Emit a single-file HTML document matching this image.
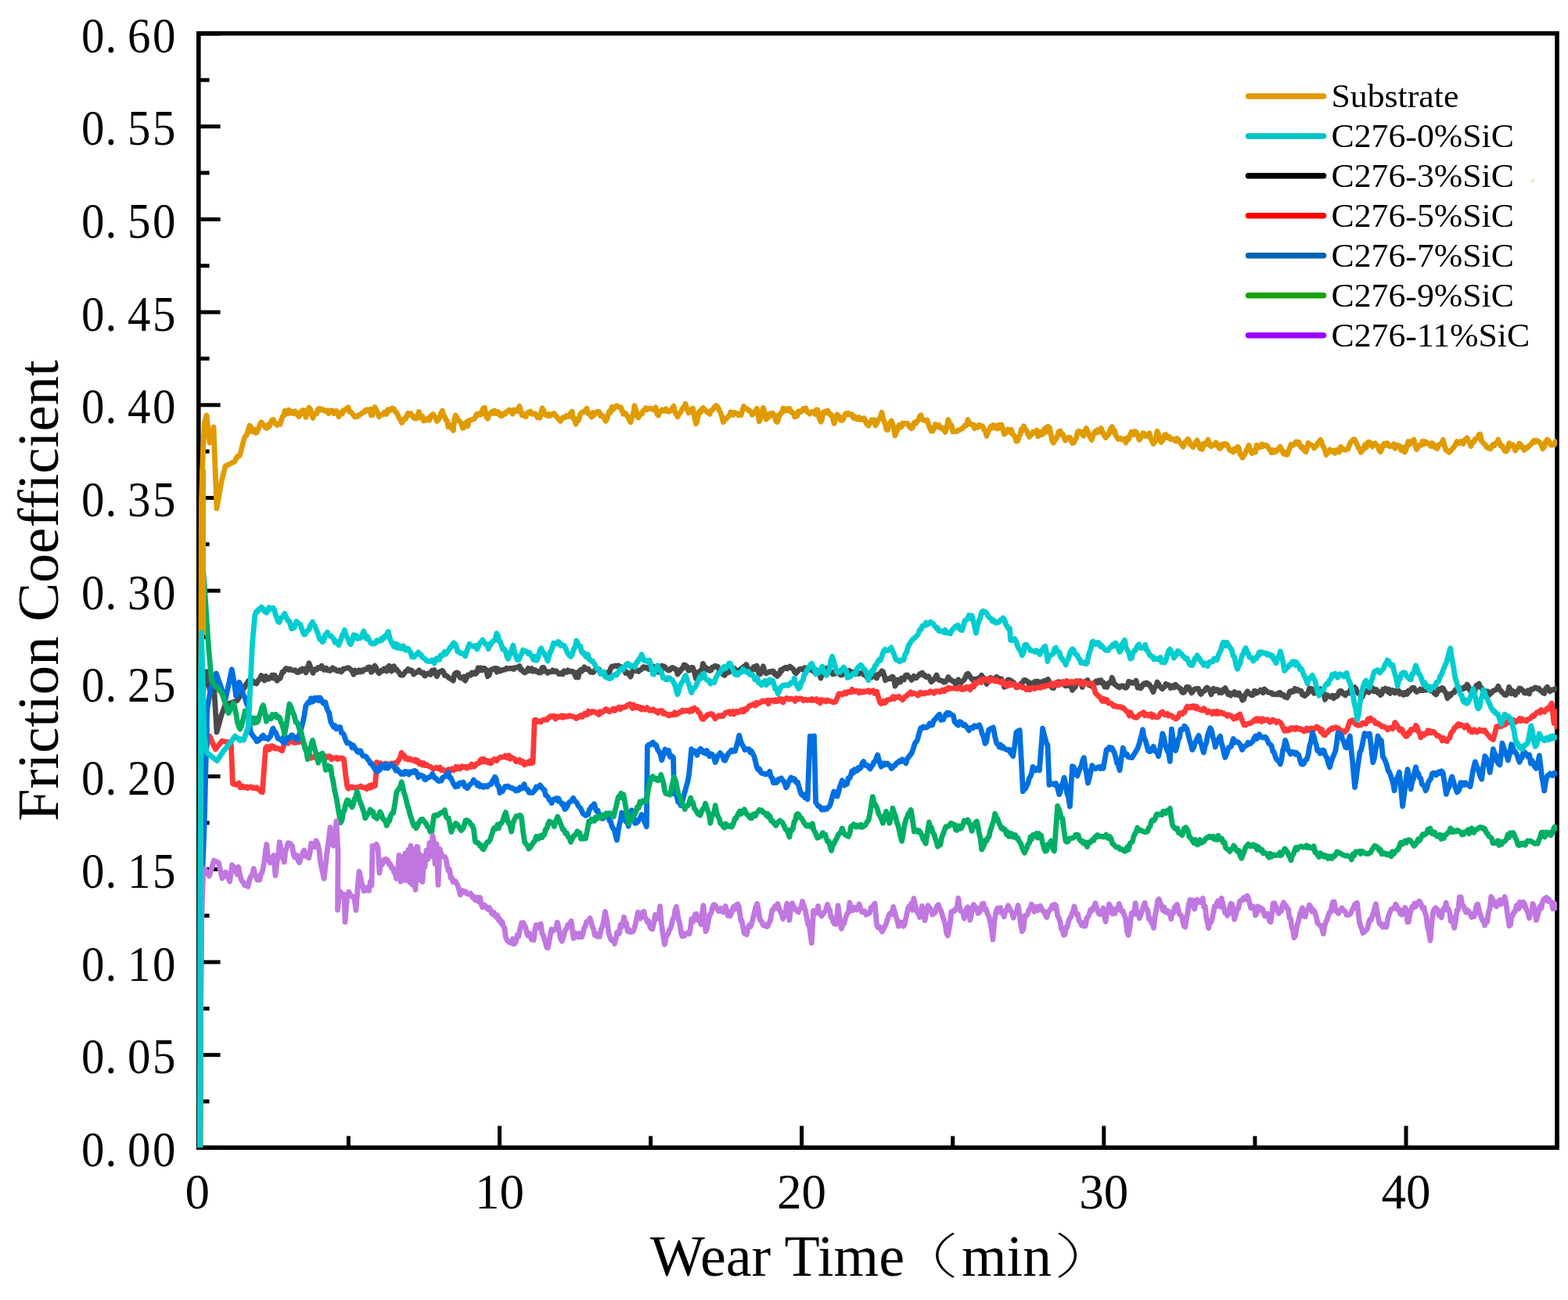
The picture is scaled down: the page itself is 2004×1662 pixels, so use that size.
<!DOCTYPE html>
<html><head><meta charset="utf-8"><style>
html,body{margin:0;padding:0;background:#fff;}
svg{display:block;}
.yl{font-family:"Liberation Serif","Noto Serif CJK SC",serif;font-size:64px;fill:#000;}
.xl{font-family:"Liberation Serif",serif;font-size:63px;fill:#000;}
.xt{font-family:"Liberation Serif","Noto Serif CJK SC",serif;font-size:74px;fill:#000;}
.cjk{font-family:"Noto Serif CJK SC",serif;}
.cjkp{font-family:"Liberation Serif","Noto Sans CJK SC",sans-serif;font-weight:100;}
.yt{font-family:"Liberation Serif",serif;font-size:74.7px;fill:#000;}
.lg{font-family:"Liberation Serif",serif;font-size:42.5px;fill:#000;}
</style></head><body>
<svg width="2004" height="1662" viewBox="0 0 2004 1662">
<rect x="253.8" y="42.7" width="1736.2" height="1424.5" fill="none" stroke="#000" stroke-width="5.6"/>
<line x1="253.8" y1="1467.4" x2="281.6" y2="1467.4" stroke="#000" stroke-width="5.0"/>
<line x1="253.8" y1="1408.1" x2="267.6" y2="1408.1" stroke="#000" stroke-width="5.0"/>
<line x1="253.8" y1="1348.7" x2="281.6" y2="1348.7" stroke="#000" stroke-width="5.0"/>
<line x1="253.8" y1="1289.4" x2="267.6" y2="1289.4" stroke="#000" stroke-width="5.0"/>
<line x1="253.8" y1="1230.0" x2="281.6" y2="1230.0" stroke="#000" stroke-width="5.0"/>
<line x1="253.8" y1="1170.7" x2="267.6" y2="1170.7" stroke="#000" stroke-width="5.0"/>
<line x1="253.8" y1="1111.3" x2="281.6" y2="1111.3" stroke="#000" stroke-width="5.0"/>
<line x1="253.8" y1="1052.0" x2="267.6" y2="1052.0" stroke="#000" stroke-width="5.0"/>
<line x1="253.8" y1="992.6" x2="281.6" y2="992.6" stroke="#000" stroke-width="5.0"/>
<line x1="253.8" y1="933.3" x2="267.6" y2="933.3" stroke="#000" stroke-width="5.0"/>
<line x1="253.8" y1="873.9" x2="281.6" y2="873.9" stroke="#000" stroke-width="5.0"/>
<line x1="253.8" y1="814.6" x2="267.6" y2="814.6" stroke="#000" stroke-width="5.0"/>
<line x1="253.8" y1="755.2" x2="281.6" y2="755.2" stroke="#000" stroke-width="5.0"/>
<line x1="253.8" y1="695.8" x2="267.6" y2="695.8" stroke="#000" stroke-width="5.0"/>
<line x1="253.8" y1="636.5" x2="281.6" y2="636.5" stroke="#000" stroke-width="5.0"/>
<line x1="253.8" y1="577.1" x2="267.6" y2="577.1" stroke="#000" stroke-width="5.0"/>
<line x1="253.8" y1="517.8" x2="281.6" y2="517.8" stroke="#000" stroke-width="5.0"/>
<line x1="253.8" y1="458.4" x2="267.6" y2="458.4" stroke="#000" stroke-width="5.0"/>
<line x1="253.8" y1="399.1" x2="281.6" y2="399.1" stroke="#000" stroke-width="5.0"/>
<line x1="253.8" y1="339.8" x2="267.6" y2="339.8" stroke="#000" stroke-width="5.0"/>
<line x1="253.8" y1="280.4" x2="281.6" y2="280.4" stroke="#000" stroke-width="5.0"/>
<line x1="253.8" y1="221.0" x2="267.6" y2="221.0" stroke="#000" stroke-width="5.0"/>
<line x1="253.8" y1="161.7" x2="281.6" y2="161.7" stroke="#000" stroke-width="5.0"/>
<line x1="253.8" y1="102.3" x2="267.6" y2="102.3" stroke="#000" stroke-width="5.0"/>
<line x1="253.8" y1="43.0" x2="281.6" y2="43.0" stroke="#000" stroke-width="5.0"/>
<line x1="445.4" y1="1467.2" x2="445.4" y2="1452.4" stroke="#000" stroke-width="5.0"/>
<line x1="638.5" y1="1467.2" x2="638.5" y2="1439.4" stroke="#000" stroke-width="5.0"/>
<line x1="831.6" y1="1467.2" x2="831.6" y2="1452.4" stroke="#000" stroke-width="5.0"/>
<line x1="1024.6" y1="1467.2" x2="1024.6" y2="1439.4" stroke="#000" stroke-width="5.0"/>
<line x1="1217.7" y1="1467.2" x2="1217.7" y2="1452.4" stroke="#000" stroke-width="5.0"/>
<line x1="1410.8" y1="1467.2" x2="1410.8" y2="1439.4" stroke="#000" stroke-width="5.0"/>
<line x1="1603.9" y1="1467.2" x2="1603.9" y2="1452.4" stroke="#000" stroke-width="5.0"/>
<line x1="1797.0" y1="1467.2" x2="1797.0" y2="1439.4" stroke="#000" stroke-width="5.0"/>
<line x1="1990.1" y1="1467.2" x2="1990.1" y2="1452.4" stroke="#000" stroke-width="5.0"/>
<defs><clipPath id="pc"><rect x="250" y="40" width="1740" height="1430"/></clipPath></defs>
<g clip-path="url(#pc)" fill="none" stroke-width="6.8" stroke-linejoin="round" stroke-linecap="butt">
<polyline stroke="#4A4A4A" points="256.0,1467.1 256.5,1228.6 257.0,1033.6 257.5,929.6 259.5,887.3 261.5,864.6 264.0,858.7 266.0,870.1 268.0,881.5 269.7,877.2 271.3,872.8 273.0,868.5 275.0,902.3 277.0,936.1 278.5,930.6 280.0,925.0 281.5,919.5 283.0,914.0 284.7,909.7 286.3,905.3 288.0,901.0 289.5,900.5 291.0,900.0 292.5,899.5 294.0,899.0 295.5,898.6 297.0,898.1 298.5,897.6 300.0,897.1 301.5,896.3 303.0,895.7 304.5,893.7 306.0,889.9 307.6,889.9 309.2,885.8 310.8,880.9 312.4,879.2 314.0,875.5 315.7,873.3 317.3,870.7 319.0,869.3 320.5,868.4 322.0,870.2 323.5,870.7 325.0,873.3 326.5,873.4 328.0,873.9 329.5,870.6 331.0,868.8 332.5,866.6 334.0,863.5 336.0,868.2 338.0,870.0 339.5,864.4 341.0,865.7 342.5,868.2 344.0,867.9 346.0,865.9 348.0,863.0 349.5,867.0 351.0,863.2 352.5,865.5 354.0,870.3 356.0,867.8 358.0,867.5 359.5,863.2 361.0,858.9 362.5,859.0 364.0,856.3 365.7,854.4 367.3,855.3 369.0,856.4 370.7,855.2 372.3,856.5 374.0,856.9 375.6,857.2 377.2,856.8 378.8,858.9 380.4,859.7 382.0,859.2 383.5,856.5 385.0,857.9 386.5,855.1 388.0,856.2 389.5,855.2 391.0,860.1 393.0,854.2 395.0,847.8 396.7,852.6 398.3,856.7 400.0,860.4 401.6,857.1 403.2,855.5 404.8,856.0 406.4,853.6 408.0,853.2 409.5,854.4 411.0,851.2 412.5,854.5 414.0,856.4 415.5,854.5 417.0,854.1 418.5,856.9 420.0,856.5 421.7,857.5 423.3,855.6 425.0,853.9 426.7,856.0 428.3,855.5 430.0,857.3 431.5,858.1 433.0,856.9 434.5,856.7 436.0,858.9 437.5,857.7 439.0,854.9 440.5,854.9 442.0,854.7 443.5,853.8 445.0,853.6 446.8,854.7 448.5,856.3 450.2,858.2 452.0,862.3 453.7,856.9 455.3,859.6 457.0,859.4 458.7,856.8 460.3,859.0 462.0,857.1 463.6,858.3 465.2,855.8 466.8,856.0 468.4,855.8 470.0,853.5 471.5,852.9 473.0,853.2 474.5,859.4 476.0,857.9 477.5,853.5 479.0,851.2 480.8,853.9 482.7,858.7 484.5,860.7 486.2,859.4 487.8,857.0 489.5,857.5 491.1,854.9 492.6,857.1 494.2,858.0 495.7,853.1 497.3,851.3 498.8,855.5 500.4,858.1 501.9,852.4 503.5,851.7 505.2,856.2 506.8,855.7 508.5,858.0 510.2,860.0 511.8,863.0 513.5,863.3 515.1,862.9 516.7,860.8 518.3,858.4 519.9,857.7 521.5,855.4 523.3,857.6 525.1,856.7 526.8,857.5 528.6,862.1 530.4,860.6 532.1,859.5 533.7,859.3 535.4,856.8 536.9,858.2 538.4,860.2 539.9,861.1 541.4,860.0 542.9,864.1 544.4,863.1 545.9,861.4 547.4,860.6 548.9,860.4 550.4,862.5 551.9,857.3 553.4,858.3 555.1,856.6 556.7,861.6 558.4,864.6 560.1,861.1 561.9,858.8 563.6,858.3 565.4,857.2 566.9,859.4 568.4,863.6 569.9,863.3 571.4,864.4 573.0,866.0 574.6,867.0 576.1,868.1 577.7,868.8 579.3,870.1 580.8,862.1 582.3,860.6 583.8,859.8 585.3,860.2 586.8,864.2 588.3,866.6 589.8,866.6 591.3,867.4 593.0,865.1 594.6,870.2 596.3,866.6 598.0,862.9 599.6,862.8 601.3,863.4 602.9,860.0 604.5,861.7 606.1,859.9 607.7,861.5 609.3,860.2 611.0,853.8 612.6,857.1 614.3,853.7 616.0,856.9 617.6,854.7 619.3,854.4 621.3,856.2 623.3,864.7 625.3,862.9 627.2,856.1 629.2,856.0 630.7,854.7 632.2,855.9 633.7,854.3 635.2,859.3 636.7,855.3 638.2,856.5 639.7,857.9 641.2,856.5 642.7,856.7 644.3,855.9 645.8,856.1 647.4,854.2 648.9,854.9 650.5,854.9 652.0,854.3 653.5,854.8 655.0,854.1 656.5,855.5 658.0,853.7 659.5,853.8 661.0,852.9 662.5,852.9 664.0,851.6 665.7,856.5 667.3,856.2 669.0,858.9 670.5,859.9 672.0,859.3 673.5,857.5 675.0,854.4 676.5,857.4 678.0,856.5 679.5,854.5 681.0,858.3 682.5,856.6 684.0,856.4 685.5,858.7 687.0,858.8 688.5,859.9 690.0,857.6 691.5,859.8 693.0,853.3 694.8,853.3 696.5,858.0 698.2,858.0 700.0,860.5 701.6,859.0 703.2,858.9 704.8,858.8 706.4,856.8 708.0,858.5 709.6,857.6 711.2,858.0 712.8,860.3 714.4,861.7 716.0,861.6 717.6,860.2 719.2,861.9 720.8,857.8 722.4,858.4 724.0,859.4 725.8,856.9 727.5,858.5 729.2,857.8 731.0,858.8 732.7,858.7 734.3,861.7 736.0,865.7 737.5,859.6 739.0,866.0 740.5,858.3 742.0,856.3 743.6,858.1 745.2,856.1 746.8,852.8 748.4,855.8 750.0,855.5 751.5,855.0 753.0,856.7 754.5,859.3 756.0,858.7 757.6,859.8 759.2,858.5 760.8,856.3 762.4,854.3 764.0,855.2 765.7,855.5 767.3,859.6 769.0,859.6 770.7,861.9 772.3,862.2 774.0,863.7 775.6,860.0 777.2,860.1 778.8,859.7 780.4,854.5 782.0,852.0 783.7,852.3 785.3,851.5 787.0,850.9 788.7,851.8 790.3,850.8 792.0,853.1 793.5,852.4 795.0,854.4 796.5,856.8 798.0,856.3 799.6,860.6 801.2,859.2 802.8,860.6 804.4,863.0 806.0,865.1 807.7,859.2 809.3,857.4 811.0,851.0 812.7,857.6 814.3,857.3 816.0,858.4 817.5,856.7 819.0,856.2 820.5,855.2 822.0,852.6 823.6,852.7 825.2,853.8 826.8,853.2 828.4,855.3 830.0,855.6 831.6,853.8 833.2,854.4 834.8,851.7 836.4,854.6 838.0,853.5 840.0,858.8 841.5,859.2 843.0,852.1 844.5,854.6 846.0,851.2 847.7,854.4 849.3,852.2 851.0,854.1 852.7,855.8 854.3,857.1 856.0,856.9 857.7,854.3 859.3,853.4 861.0,854.2 862.7,855.5 864.3,855.6 866.0,862.0 867.7,859.5 869.3,858.3 871.0,854.7 872.7,854.6 874.3,849.9 876.0,850.5 878.0,852.2 880.0,857.2 881.8,856.8 883.7,853.3 885.5,853.5 887.5,859.8 889.5,867.7 891.0,864.5 892.5,859.1 894.0,859.1 895.5,857.0 897.0,856.6 898.5,848.4 900.2,851.9 902.0,856.5 903.8,854.3 905.5,856.3 907.2,857.5 908.8,856.8 910.5,852.9 912.2,853.3 913.8,851.2 915.5,851.9 917.3,852.2 919.1,856.3 920.8,856.1 922.6,859.8 924.4,862.5 926.0,863.4 927.5,861.7 929.1,858.7 930.7,859.9 932.3,859.2 933.8,856.9 935.4,855.8 937.1,856.3 938.7,854.5 940.4,857.7 942.1,858.2 943.7,857.0 945.4,859.9 947.1,854.7 948.9,854.0 950.6,852.2 952.4,853.9 953.9,849.6 955.4,854.0 956.9,855.6 958.4,855.8 959.9,858.1 961.4,855.9 963.4,852.5 965.3,855.6 967.3,851.1 968.8,857.9 970.3,862.2 972.0,861.8 973.6,857.9 975.3,851.8 977.3,858.1 979.3,860.9 980.9,859.8 982.5,859.5 984.1,858.4 985.7,859.0 987.3,857.9 988.8,858.5 990.3,862.2 991.8,861.4 993.3,864.4 994.8,862.3 996.3,861.6 997.8,856.4 999.3,857.5 1001.0,854.9 1002.6,854.1 1004.3,853.2 1006.0,854.9 1007.6,853.8 1009.3,851.9 1010.9,852.9 1012.5,854.8 1014.0,855.6 1015.6,859.3 1017.2,860.8 1018.8,859.1 1020.3,857.4 1021.9,855.3 1023.5,855.1 1025.1,855.4 1026.6,856.4 1028.2,853.6 1029.9,853.6 1031.5,855.8 1033.2,856.7 1034.9,855.9 1036.6,856.5 1038.3,856.8 1040.0,858.9 1041.7,855.8 1043.3,857.3 1045.0,857.5 1047.0,859.8 1049.0,867.0 1050.5,861.4 1052.0,855.5 1053.5,856.1 1055.0,855.2 1056.5,854.3 1058.0,853.9 1059.6,856.4 1061.2,858.7 1062.8,858.7 1064.4,862.0 1066.0,861.7 1068.0,861.1 1070.0,858.4 1071.5,859.3 1073.0,861.1 1074.5,863.2 1076.0,862.9 1077.7,861.4 1079.3,860.4 1081.0,858.9 1082.6,858.0 1084.2,861.3 1085.8,857.3 1087.4,858.9 1089.0,859.3 1090.7,859.2 1092.3,860.1 1094.0,861.5 1096.0,861.6 1098.0,861.1 1099.6,860.4 1101.2,860.9 1102.8,860.8 1104.4,862.8 1106.0,859.4 1108.0,865.9 1110.0,868.5 1112.0,863.5 1114.0,865.9 1115.7,862.1 1117.3,864.1 1119.0,865.4 1120.6,866.9 1122.2,862.0 1123.8,862.3 1125.4,860.3 1127.0,857.8 1128.5,858.7 1130.0,863.0 1131.5,869.7 1133.0,868.5 1134.6,867.9 1136.2,867.6 1137.8,867.8 1139.4,865.6 1141.0,865.1 1142.5,868.2 1144.0,877.1 1145.7,874.3 1147.3,868.9 1149.0,871.4 1150.6,872.0 1152.1,866.9 1153.7,867.6 1155.3,869.0 1156.9,864.1 1158.4,862.8 1160.0,863.3 1161.7,865.5 1163.3,866.5 1165.0,869.4 1166.5,867.8 1168.0,864.3 1169.5,865.9 1171.0,866.8 1172.5,864.9 1174.0,863.8 1175.5,861.5 1177.0,862.2 1178.6,860.0 1180.2,863.4 1181.8,862.9 1183.4,865.5 1185.0,865.3 1186.8,864.7 1188.5,868.4 1190.2,871.8 1192.0,870.0 1193.7,868.7 1195.3,866.3 1197.0,863.0 1198.6,867.8 1200.1,869.4 1201.7,869.8 1203.3,870.1 1204.9,870.7 1206.4,872.3 1208.0,871.9 1210.0,869.8 1212.0,865.5 1214.0,868.6 1216.0,869.6 1217.8,871.0 1219.5,871.2 1221.2,874.6 1223.0,872.7 1224.8,868.9 1226.5,871.7 1228.2,873.3 1230.0,870.8 1231.8,869.6 1233.5,866.9 1235.2,862.4 1237.0,861.2 1238.8,863.4 1240.5,866.3 1242.2,868.3 1244.0,870.2 1245.5,868.4 1247.0,870.1 1248.5,868.0 1250.0,867.1 1251.5,869.2 1253.0,866.3 1254.5,863.3 1256.0,865.6 1257.7,869.9 1259.3,867.8 1261.0,874.5 1262.7,872.3 1264.3,868.5 1266.0,866.3 1267.6,867.7 1269.1,867.4 1270.7,869.9 1272.2,868.5 1273.8,865.4 1275.3,866.3 1276.9,868.5 1278.4,870.2 1280.0,867.8 1281.8,871.9 1283.5,878.4 1285.0,874.1 1286.5,872.3 1288.0,869.1 1289.5,869.0 1291.1,874.4 1292.6,870.3 1294.2,873.7 1295.8,872.9 1297.4,876.5 1298.9,878.9 1300.5,878.5 1302.1,877.9 1303.7,875.8 1305.3,873.3 1306.9,873.1 1308.5,869.7 1310.2,869.5 1312.0,870.4 1313.8,871.6 1315.5,875.1 1317.1,873.3 1318.7,877.4 1320.2,875.5 1321.8,871.9 1323.4,871.2 1325.1,875.4 1326.7,871.1 1328.4,874.3 1330.0,875.4 1331.5,871.6 1333.1,871.2 1334.7,870.4 1336.3,870.9 1337.8,869.1 1339.4,868.4 1341.2,872.0 1342.9,874.4 1344.7,879.3 1346.4,879.7 1348.2,876.6 1349.9,873.9 1351.7,872.1 1353.4,871.6 1355.0,875.0 1356.6,874.7 1358.2,874.6 1359.8,874.9 1361.4,876.8 1363.4,876.8 1365.3,876.3 1367.3,874.8 1369.0,878.2 1370.6,882.4 1372.3,879.5 1374.0,878.7 1375.6,872.2 1377.3,872.0 1378.8,871.6 1380.3,870.6 1381.8,874.8 1383.3,878.4 1385.0,874.1 1386.6,873.9 1388.3,870.3 1390.0,869.5 1391.8,875.7 1393.5,876.6 1395.3,877.3 1397.3,876.8 1399.3,872.2 1400.9,870.8 1402.5,872.8 1404.1,870.0 1405.7,872.2 1407.3,869.7 1408.8,873.5 1410.3,872.7 1411.8,878.2 1413.3,878.0 1414.9,878.3 1416.5,873.5 1418.0,872.6 1419.6,873.1 1421.2,866.3 1422.8,870.3 1424.4,874.8 1426.0,875.4 1427.6,877.6 1429.2,877.1 1430.8,878.9 1432.5,877.4 1434.1,876.8 1435.7,876.8 1437.4,878.9 1439.0,879.4 1440.8,877.5 1442.5,871.3 1444.2,871.8 1446.0,872.2 1447.5,873.6 1449.0,872.5 1450.5,872.2 1452.0,870.2 1454.0,879.3 1456.0,877.2 1457.7,879.9 1459.3,878.2 1461.0,874.8 1462.6,873.6 1464.2,874.8 1465.8,873.0 1467.4,875.3 1469.0,875.0 1470.7,878.2 1472.3,881.2 1474.0,884.7 1475.7,878.5 1477.3,877.6 1479.0,871.9 1480.7,874.3 1482.3,877.3 1484.0,879.4 1485.5,880.7 1487.0,879.0 1488.5,877.9 1490.0,874.3 1491.5,875.9 1493.0,875.7 1494.5,876.0 1496.0,879.6 1497.6,879.0 1499.2,876.7 1500.8,879.0 1502.4,875.2 1504.0,877.3 1505.6,878.1 1507.2,879.7 1508.8,880.3 1510.4,884.7 1512.0,885.6 1513.5,885.1 1515.0,882.0 1516.5,878.4 1518.0,878.3 1519.7,878.8 1521.3,883.0 1523.0,885.9 1524.8,883.6 1526.5,881.2 1528.2,880.6 1530.0,880.5 1531.7,880.4 1533.3,885.2 1535.0,887.6 1536.5,885.1 1538.0,883.9 1539.5,883.3 1541.0,880.4 1542.5,879.0 1544.0,880.0 1546.0,882.4 1548.0,887.9 1549.5,882.7 1551.0,880.4 1552.5,883.4 1554.0,882.2 1555.5,881.3 1557.0,881.9 1558.5,885.6 1560.0,884.7 1561.5,885.6 1563.0,881.7 1564.5,883.5 1566.0,879.6 1567.8,883.7 1569.5,887.6 1571.2,886.2 1573.0,889.1 1574.5,886.6 1576.0,885.9 1577.5,884.7 1579.0,888.2 1580.5,886.2 1582.0,888.4 1583.5,886.0 1585.0,889.2 1586.5,891.5 1588.0,895.2 1589.6,894.2 1591.2,888.8 1592.8,886.3 1594.4,883.8 1596.0,886.7 1598.0,887.1 1600.0,888.9 1601.5,888.5 1603.0,883.4 1604.5,883.4 1606.0,886.1 1607.7,884.9 1609.3,884.2 1611.0,882.2 1612.7,884.2 1614.3,885.7 1616.0,880.9 1617.5,883.4 1619.0,883.4 1620.5,885.2 1622.0,885.3 1623.5,885.9 1625.0,885.6 1626.5,887.7 1628.0,887.6 1629.6,887.8 1631.2,887.4 1632.8,888.0 1634.4,885.6 1636.0,885.5 1637.5,888.5 1639.0,887.6 1640.5,888.5 1642.0,891.2 1643.5,891.2 1645.0,891.9 1646.7,889.1 1648.3,883.9 1650.0,883.4 1651.7,884.7 1653.3,883.6 1655.0,880.4 1656.7,883.1 1658.3,881.4 1660.0,882.4 1661.5,884.1 1663.0,883.3 1664.5,888.2 1666.0,887.3 1667.5,889.8 1669.0,887.9 1670.5,887.3 1672.0,885.5 1673.5,879.9 1675.0,883.0 1676.5,880.5 1678.0,883.9 1679.5,886.4 1681.1,885.8 1682.7,885.5 1684.3,882.0 1685.9,882.2 1687.5,880.9 1689.0,884.6 1690.5,887.1 1692.0,886.1 1693.5,894.3 1695.1,888.9 1696.6,888.6 1698.2,890.3 1699.8,890.8 1701.4,890.8 1702.9,889.3 1704.5,892.8 1706.3,889.5 1708.1,890.5 1709.8,889.1 1711.6,884.0 1713.4,883.2 1714.9,884.2 1716.4,887.0 1717.9,887.7 1719.4,889.0 1721.1,885.9 1722.7,886.2 1724.4,886.2 1726.2,880.8 1727.9,881.2 1729.7,880.5 1731.4,878.7 1733.0,880.5 1734.6,885.4 1736.2,886.6 1737.8,887.9 1739.4,887.5 1741.1,890.9 1742.7,887.0 1744.4,884.5 1746.1,883.8 1747.7,882.5 1749.4,885.3 1751.1,882.6 1752.7,882.6 1754.3,879.5 1756.0,884.1 1757.7,881.6 1759.3,881.7 1761.0,885.6 1762.6,884.7 1764.3,888.6 1766.0,887.3 1767.6,881.2 1769.3,881.9 1770.8,880.1 1772.3,882.7 1773.8,884.5 1775.3,881.4 1776.8,886.4 1778.3,883.6 1779.8,882.6 1781.3,884.5 1782.9,886.0 1784.5,882.9 1786.1,885.1 1787.7,883.2 1789.3,887.2 1790.8,886.1 1792.3,885.7 1793.8,888.4 1795.3,885.4 1796.8,885.4 1798.3,887.5 1799.8,883.2 1801.3,884.1 1803.2,881.5 1805.1,879.3 1807.0,879.1 1808.8,882.6 1810.5,884.7 1812.0,883.5 1813.5,882.9 1815.0,881.2 1816.5,882.9 1818.0,882.7 1819.5,882.6 1821.0,878.1 1822.5,882.2 1824.0,881.2 1825.5,879.3 1827.0,881.8 1828.5,883.1 1830.0,882.9 1831.8,884.7 1833.6,886.6 1835.4,888.0 1836.9,885.3 1838.4,880.9 1839.9,881.6 1841.4,882.0 1842.9,879.5 1844.4,879.9 1846.3,883.7 1848.1,886.3 1850.0,892.7 1851.8,887.6 1853.5,889.7 1855.2,886.8 1857.0,885.5 1858.7,885.4 1860.3,881.4 1862.0,881.4 1863.6,878.7 1865.2,880.7 1866.8,879.7 1868.4,880.8 1870.0,880.9 1871.7,878.3 1873.3,879.4 1875.0,875.0 1876.7,877.4 1878.3,882.1 1880.0,884.2 1881.7,882.6 1883.4,880.9 1885.2,882.6 1886.9,876.2 1888.6,875.7 1890.3,874.1 1891.9,878.6 1893.5,879.3 1895.0,882.2 1896.6,883.6 1898.2,883.4 1899.8,884.1 1901.5,883.9 1903.1,888.7 1904.8,886.8 1906.5,885.5 1908.1,883.3 1909.8,882.8 1911.5,881.8 1913.1,881.1 1914.8,877.2 1916.5,882.0 1918.1,882.8 1919.8,885.2 1921.5,886.3 1923.1,888.6 1924.8,888.6 1926.8,886.6 1928.7,878.3 1930.3,881.5 1931.9,886.8 1933.5,883.4 1935.1,885.9 1936.7,888.4 1938.4,884.3 1940.0,884.9 1941.7,880.0 1943.3,880.2 1944.9,881.9 1946.5,882.4 1948.1,885.7 1949.7,886.2 1951.3,886.0 1952.9,882.8 1954.5,887.0 1956.1,881.8 1957.7,880.8 1959.2,881.2 1960.7,879.8 1962.2,878.9 1963.7,879.6 1965.2,880.6 1966.7,879.9 1968.4,882.9 1970.0,883.2 1971.7,885.5 1973.7,886.6 1975.6,880.2 1977.6,878.3 1979.3,880.8 1980.9,884.0 1982.6,882.0 1984.4,882.2 1986.3,881.1 1988.2,880.2 1990.0,879.5"/>
<polyline stroke="#FF3838" points="255.5,1467.0 257.5,1100.0 260.0,1000.0 262.0,977.5 264.0,955.0 265.9,948.0 267.9,941.0 269.8,945.2 271.6,949.5 273.4,953.7 275.3,957.9 277.0,955.8 278.7,953.7 280.3,951.6 282.0,949.5 283.7,947.4 285.4,947.7 287.0,948.0 288.7,948.3 290.3,948.6 292.0,948.9 293.6,949.2 295.3,949.5 297.4,1002.0 299.0,1002.4 300.6,1003.1 302.1,1002.7 303.7,1003.2 305.3,1001.2 306.9,1006.7 308.5,1006.4 310.0,1005.0 311.6,1006.8 313.2,1006.6 314.8,1005.8 316.5,1007.7 318.1,1006.3 319.8,1006.4 321.4,1006.0 323.1,1007.6 324.7,1007.0 326.4,1007.9 328.0,1006.7 329.8,1008.9 331.6,1008.9 333.5,1012.3 335.3,1012.8 337.4,984.6 339.5,956.3 341.1,954.6 342.7,956.7 344.2,958.3 345.8,953.8 347.4,953.7 349.0,954.0 350.6,956.8 352.1,956.0 353.7,957.1 355.3,956.7 357.0,957.5 358.8,958.9 360.5,959.8 362.1,955.2 363.7,947.0 365.2,947.8 366.8,948.6 368.3,950.4 369.9,947.2 371.4,946.8 372.9,947.3 374.5,949.1 376.0,947.6 377.6,949.4 379.1,945.5 380.6,949.0 382.2,948.8 383.7,945.8 385.3,947.7 386.8,948.9 388.3,950.5 389.8,954.6 391.3,959.2 392.9,959.7 394.4,962.1 395.9,964.5 397.4,969.2 398.9,968.1 400.5,968.0 402.0,968.0 403.5,968.8 405.0,966.7 406.6,966.0 408.1,964.8 409.6,969.1 411.1,967.7 412.7,969.3 414.2,967.4 415.8,966.7 417.4,968.4 418.9,967.9 420.5,966.7 422.1,967.3 423.7,970.7 425.3,969.2 426.9,969.4 428.4,968.8 430.0,968.5 431.6,970.6 433.2,969.6 434.8,969.0 436.3,970.0 437.9,969.2 439.5,970.7 441.6,989.8 443.7,1005.3 445.3,1008.2 446.9,1005.8 448.4,1006.9 450.0,1005.8 451.6,1006.7 453.1,1007.2 454.7,1006.7 456.3,1006.6 457.8,1006.4 459.4,1006.0 460.9,1004.9 462.5,1006.2 464.0,1006.8 465.6,1007.2 467.1,1006.7 468.7,1008.6 470.2,1005.9 471.8,1004.7 473.3,1007.3 474.9,1003.6 476.4,1005.8 478.0,1003.3 479.5,1004.6 481.6,974.4 483.2,977.9 484.8,976.6 486.3,975.6 487.9,978.8 489.5,977.7 491.1,976.9 492.6,975.9 494.2,976.7 495.8,976.6 497.4,977.7 498.9,977.8 500.5,976.0 502.1,976.1 503.7,976.2 505.2,975.2 506.8,976.1 508.4,973.3 510.0,970.8 511.6,968.2 513.2,962.2 514.9,965.3 516.6,965.6 518.2,970.1 519.9,969.0 521.6,971.1 523.2,969.8 524.8,970.3 526.3,971.9 527.9,971.6 529.5,972.9 531.1,971.0 532.6,974.1 534.2,972.6 536.1,976.8 538.1,975.4 540.0,978.1 541.6,975.7 543.3,978.5 544.9,977.5 546.5,978.6 548.2,979.8 549.8,980.0 551.4,981.2 553.1,982.4 554.7,982.9 556.2,982.3 557.8,981.0 559.3,982.0 560.8,983.0 562.4,981.0 563.9,984.7 565.5,983.8 567.0,984.1 568.5,985.9 570.1,985.8 571.6,985.6 573.2,983.7 574.8,985.0 576.3,984.6 577.9,982.8 579.5,984.8 581.0,983.8 582.6,980.4 584.2,982.6 585.8,980.6 587.4,983.1 588.9,982.3 590.5,979.7 592.0,979.8 593.6,980.8 595.1,980.2 596.6,982.1 598.2,981.0 599.7,979.6 601.3,980.4 602.8,977.1 604.3,979.7 605.9,980.2 607.4,978.8 609.0,976.3 610.5,976.0 612.1,975.8 613.7,971.8 615.3,970.6 617.0,974.0 618.6,970.4 620.2,973.6 621.9,972.6 623.5,974.8 625.1,973.0 626.8,975.9 628.4,975.1 630.0,971.7 631.5,970.5 633.1,971.6 634.7,972.6 636.3,970.3 637.9,969.3 639.4,968.0 641.0,968.3 642.6,967.9 644.2,967.7 645.8,966.2 647.4,968.8 648.9,969.0 650.5,965.8 652.1,970.2 653.7,968.3 655.8,969.4 657.9,970.3 659.4,973.6 661.0,973.7 662.5,972.5 664.1,971.3 665.6,975.0 667.1,973.2 668.7,973.5 670.2,977.7 671.8,977.1 673.3,975.9 674.8,974.4 676.4,975.9 677.9,972.6 679.5,975.7 681.0,974.9 683.2,920.6 684.8,920.2 686.4,922.7 687.9,922.2 689.5,922.3 691.1,923.1 692.6,921.1 694.2,920.6 695.8,920.0 697.3,920.4 698.9,920.4 700.5,917.9 702.0,917.6 703.6,915.4 705.1,916.2 706.7,915.9 708.2,915.3 709.8,919.0 711.4,917.8 712.9,915.9 714.5,915.9 716.0,916.7 717.6,915.1 719.2,917.3 720.7,915.2 722.3,916.4 723.9,915.6 725.4,916.2 727.0,915.2 728.5,914.9 730.1,915.6 731.7,916.0 733.2,916.4 734.8,916.9 736.3,918.6 737.9,917.8 739.5,916.0 741.0,916.6 742.6,914.4 744.2,916.4 745.8,914.8 747.4,912.0 748.9,914.0 750.5,913.6 752.1,909.1 753.8,911.2 755.4,911.3 757.1,909.4 758.7,910.2 760.4,910.1 762.0,911.6 763.7,911.1 765.3,913.7 766.8,909.7 768.4,911.3 769.9,909.7 771.4,909.7 772.9,907.7 774.5,906.5 776.0,907.6 777.5,909.2 779.0,909.9 780.6,908.4 782.1,908.0 783.6,906.0 785.2,908.5 786.7,908.0 788.3,905.3 789.8,905.6 791.4,904.1 792.9,906.7 794.5,905.1 796.0,904.1 797.6,904.4 799.1,904.0 800.7,902.7 802.2,901.3 803.8,900.9 805.3,900.0 806.9,903.1 808.4,905.6 810.0,901.3 811.6,903.9 813.2,904.6 814.8,903.3 816.3,905.1 817.9,904.0 819.4,907.0 820.9,905.1 822.4,906.2 824.0,907.2 825.5,906.1 827.0,904.7 828.5,906.5 830.0,908.3 831.6,907.6 833.1,908.2 834.7,906.9 836.3,908.6 837.9,909.6 839.5,909.0 841.0,911.5 842.6,909.3 844.2,908.7 845.9,908.5 847.5,912.3 849.2,911.3 850.8,913.0 852.5,912.8 854.1,914.7 855.8,914.8 857.4,913.2 859.0,913.6 860.7,914.1 862.3,910.8 863.9,913.6 865.6,912.8 867.2,912.1 868.8,910.2 870.5,910.3 872.1,908.2 873.7,909.4 875.2,908.4 876.8,909.1 878.4,908.2 880.0,909.0 881.5,909.9 883.1,906.7 884.7,909.2 886.3,905.5 887.9,905.2 889.4,907.4 891.0,907.4 892.6,910.8 894.2,911.2 895.8,916.0 897.4,919.1 898.9,919.5 900.4,917.0 901.9,916.8 903.4,914.1 904.9,914.2 906.4,913.0 907.9,913.4 909.5,912.5 911.0,913.7 912.6,916.4 914.2,918.9 915.8,916.7 917.5,916.0 919.1,914.7 920.8,915.8 922.4,914.6 924.1,915.4 925.7,913.2 927.4,911.0 929.0,910.9 930.5,910.3 932.1,909.8 933.6,912.7 935.2,912.0 936.7,909.4 938.2,912.9 939.8,910.9 941.3,909.3 942.9,910.8 944.4,910.1 945.9,909.1 947.5,907.6 949.0,909.8 950.6,910.0 952.1,906.4 954.2,907.0 956.3,903.9 957.8,902.2 959.3,902.4 960.8,901.5 962.3,900.4 963.8,900.5 965.3,902.1 966.8,898.3 968.4,899.8 969.9,899.3 971.4,897.8 972.9,897.6 974.4,896.0 975.9,896.2 977.4,896.8 979.0,897.0 980.5,895.4 982.1,899.9 983.7,895.4 985.3,896.1 986.8,895.5 988.4,895.1 990.0,897.0 991.6,894.7 993.1,896.7 994.7,896.2 996.3,893.4 997.8,895.9 999.3,893.9 1000.9,898.0 1002.4,894.2 1003.9,893.6 1005.4,892.4 1007.0,893.1 1008.5,894.0 1010.0,893.5 1011.5,893.2 1013.1,893.9 1014.6,894.5 1016.1,896.4 1017.6,892.7 1019.2,894.0 1020.7,893.6 1022.2,892.9 1023.7,893.2 1025.3,893.6 1026.8,895.6 1028.3,894.5 1029.8,894.1 1031.4,895.4 1032.9,895.0 1034.4,894.4 1035.9,895.2 1037.5,893.7 1039.0,895.5 1040.5,895.3 1042.0,894.3 1043.5,893.5 1045.1,896.9 1046.6,895.3 1048.1,898.9 1049.6,894.6 1051.2,896.5 1052.7,895.1 1054.2,896.1 1055.7,896.9 1057.2,895.0 1058.8,896.0 1060.3,896.4 1061.8,896.5 1063.3,897.2 1064.9,897.8 1066.4,897.7 1067.9,897.1 1070.0,892.2 1072.1,887.0 1073.6,887.1 1075.2,887.0 1076.7,888.1 1078.2,886.4 1079.8,885.0 1081.3,886.9 1082.9,884.8 1084.4,884.4 1085.9,884.7 1087.5,885.1 1089.0,881.3 1090.5,882.9 1092.0,884.4 1093.5,883.8 1095.0,883.2 1096.5,883.6 1098.0,885.9 1099.5,883.7 1101.0,885.1 1102.5,885.2 1104.0,883.7 1105.5,884.7 1107.0,883.7 1108.5,883.5 1110.0,882.8 1111.5,885.2 1113.0,883.7 1114.5,883.5 1116.0,882.8 1117.5,886.4 1119.0,885.1 1120.5,884.0 1122.6,891.3 1124.7,898.2 1126.2,899.7 1127.7,899.0 1129.2,896.3 1130.8,898.7 1132.3,897.6 1133.8,894.9 1135.3,894.7 1136.8,894.2 1138.3,894.1 1139.8,893.0 1141.3,890.5 1142.9,893.5 1144.4,891.4 1145.9,891.8 1147.4,891.0 1149.0,890.3 1150.6,892.0 1152.1,893.5 1153.7,894.6 1155.4,892.2 1157.1,890.4 1158.7,890.0 1160.4,887.7 1162.1,886.7 1163.7,884.9 1165.3,887.4 1166.8,886.0 1168.4,886.5 1170.0,887.0 1171.6,887.4 1173.2,889.2 1174.8,887.1 1176.3,885.1 1177.9,886.9 1179.5,885.9 1181.1,887.1 1182.7,885.7 1184.2,885.6 1185.8,885.8 1187.4,885.5 1188.9,883.7 1190.5,884.7 1192.0,885.1 1193.5,886.2 1195.0,884.0 1196.6,883.6 1198.1,884.3 1199.6,883.9 1201.1,884.8 1202.7,883.2 1204.2,882.1 1205.7,883.5 1207.3,883.6 1208.8,881.0 1210.3,881.5 1211.8,879.1 1213.4,880.5 1214.9,879.7 1216.4,880.3 1217.9,879.8 1219.5,880.0 1221.0,879.9 1222.6,880.6 1224.2,880.3 1225.8,879.3 1227.3,878.5 1228.9,881.5 1230.5,881.7 1232.1,879.5 1233.7,880.7 1235.2,878.2 1236.8,878.1 1238.4,879.7 1240.0,881.8 1241.6,877.4 1243.2,876.4 1244.7,878.0 1246.3,872.5 1247.9,874.2 1249.4,872.7 1251.0,870.6 1252.6,869.7 1254.2,872.6 1255.9,868.1 1257.5,869.1 1259.2,869.2 1260.8,868.7 1262.5,867.9 1264.1,871.4 1265.8,869.8 1267.4,867.4 1268.9,869.0 1270.5,870.6 1272.0,871.0 1273.6,869.1 1275.1,871.0 1276.7,871.8 1278.2,872.3 1279.8,872.6 1281.3,870.3 1282.9,875.0 1284.4,873.4 1286.0,875.6 1287.5,877.2 1289.1,873.9 1290.6,873.0 1292.2,875.8 1293.7,874.9 1295.3,874.9 1296.8,874.6 1298.4,878.4 1300.1,876.4 1301.7,875.9 1303.4,877.6 1305.0,877.3 1306.7,879.5 1308.3,879.3 1310.0,879.2 1311.6,881.7 1313.1,880.0 1314.7,881.5 1316.2,881.9 1317.8,879.7 1319.3,879.2 1320.8,880.0 1322.4,880.6 1323.9,879.3 1325.5,879.3 1327.0,878.9 1328.5,879.1 1330.1,879.3 1331.6,877.5 1333.2,877.5 1334.7,878.0 1336.4,876.5 1338.1,876.8 1339.8,876.6 1341.5,875.3 1343.2,874.0 1344.7,873.6 1346.3,876.5 1347.8,875.3 1349.4,872.7 1350.9,872.9 1352.5,876.0 1354.0,875.4 1355.6,873.5 1357.1,874.6 1358.7,871.3 1360.2,872.9 1361.8,873.6 1363.3,870.3 1364.9,871.5 1366.4,873.2 1368.0,873.4 1369.5,871.2 1371.1,872.1 1372.6,873.5 1374.1,871.3 1375.7,870.3 1377.2,871.9 1378.8,871.7 1380.3,873.9 1381.9,872.6 1383.4,871.6 1385.0,875.6 1386.5,872.3 1388.1,873.6 1389.6,874.0 1391.2,874.2 1392.7,873.6 1394.3,874.3 1395.8,873.6 1397.9,878.3 1400.0,886.0 1401.5,887.4 1403.0,888.9 1404.5,890.6 1406.0,891.1 1407.5,894.8 1409.0,896.5 1410.5,893.4 1412.0,896.6 1413.5,896.4 1415.0,894.7 1416.5,899.0 1418.1,898.4 1419.6,899.3 1421.1,899.6 1422.6,902.3 1424.2,903.1 1425.9,902.5 1427.5,903.6 1429.2,903.2 1430.8,904.1 1432.5,903.6 1434.1,905.2 1435.8,904.9 1437.4,906.7 1438.9,908.7 1440.4,909.5 1441.9,911.9 1443.4,915.1 1445.0,910.8 1446.5,914.7 1448.0,915.4 1449.5,917.0 1451.0,917.3 1452.8,917.4 1454.7,915.4 1456.6,913.4 1458.4,912.3 1460.0,912.2 1461.6,910.5 1463.2,914.9 1464.7,913.6 1466.3,913.2 1467.9,915.1 1469.5,914.3 1471.1,912.8 1472.7,916.8 1474.2,914.1 1475.8,916.2 1477.4,916.9 1479.1,917.2 1480.8,915.7 1482.4,913.2 1484.1,910.8 1485.8,910.0 1487.3,912.5 1488.9,914.0 1490.4,913.2 1491.9,912.4 1493.4,915.1 1495.0,914.1 1496.5,914.7 1498.0,915.5 1499.5,917.3 1501.1,917.6 1502.6,919.1 1504.3,918.4 1506.0,916.4 1507.6,911.9 1509.3,911.6 1511.0,912.8 1512.6,910.2 1514.2,910.5 1515.8,905.5 1517.4,903.0 1518.9,904.5 1520.4,904.8 1521.9,903.3 1523.4,904.3 1524.9,902.6 1526.4,902.9 1527.9,905.7 1529.4,903.1 1531.0,906.5 1532.5,906.7 1534.0,907.4 1535.5,908.2 1537.1,908.3 1538.6,905.6 1540.1,907.6 1541.6,908.6 1543.2,911.0 1544.7,909.1 1546.3,909.9 1547.9,910.5 1549.4,912.7 1551.0,909.6 1552.6,909.9 1554.2,912.5 1555.8,909.3 1557.3,912.5 1558.9,911.8 1560.5,910.6 1562.1,912.2 1563.7,911.7 1565.3,913.3 1566.8,913.7 1568.4,915.3 1570.0,913.7 1571.7,914.9 1573.4,915.1 1575.0,916.8 1576.7,919.1 1578.4,916.6 1580.0,918.1 1581.6,915.1 1583.1,914.3 1584.7,913.0 1586.5,918.6 1588.2,922.8 1590.0,926.9 1591.6,927.1 1593.2,926.0 1594.8,925.1 1596.3,924.8 1597.9,924.9 1599.5,923.4 1601.1,922.9 1602.7,920.6 1604.2,921.5 1605.8,918.9 1607.4,921.4 1608.9,918.9 1610.5,921.1 1612.1,922.6 1613.7,918.9 1615.2,921.4 1616.8,920.6 1618.4,919.9 1620.0,919.9 1621.5,922.0 1623.1,923.4 1624.7,922.5 1626.4,920.3 1628.0,920.8 1629.7,921.8 1631.3,923.7 1633.0,922.4 1634.6,922.5 1636.3,923.6 1638.1,926.1 1639.8,930.4 1641.6,934.5 1643.2,932.0 1644.8,934.2 1646.3,933.6 1647.9,933.8 1649.5,930.6 1651.0,930.6 1652.6,932.1 1654.2,930.9 1655.8,932.6 1657.3,930.3 1658.9,931.9 1660.5,931.3 1662.1,932.9 1663.7,932.3 1665.2,933.9 1666.8,935.0 1668.4,934.2 1670.0,931.0 1671.5,934.0 1673.1,933.2 1674.7,931.1 1676.3,931.0 1677.9,931.8 1679.5,932.3 1681.0,930.8 1682.6,929.1 1684.2,931.1 1685.8,930.7 1687.7,935.3 1689.5,932.7 1691.3,939.1 1693.2,940.0 1695.0,936.7 1696.8,936.7 1698.7,933.3 1700.5,932.8 1702.2,930.7 1703.8,931.7 1705.5,930.4 1707.2,929.7 1708.8,931.3 1710.5,930.8 1712.1,933.2 1713.7,934.9 1715.2,934.0 1716.8,935.1 1718.4,936.2 1720.0,934.8 1721.8,932.2 1723.5,927.0 1725.3,922.0 1726.9,921.3 1728.5,920.8 1730.0,923.4 1731.6,924.6 1733.2,926.3 1734.8,926.6 1736.3,927.5 1737.9,926.7 1739.4,926.9 1740.9,924.4 1742.5,924.6 1744.0,924.2 1745.5,925.5 1747.0,921.7 1748.6,919.1 1750.1,921.5 1751.6,918.1 1753.2,920.0 1754.7,920.7 1756.3,921.1 1757.9,924.8 1759.4,925.0 1761.0,924.6 1762.6,926.3 1764.2,926.6 1765.8,928.8 1767.3,928.5 1768.9,928.9 1770.5,930.0 1772.1,931.2 1773.7,932.9 1775.2,930.6 1776.7,930.7 1778.2,930.4 1779.7,931.8 1781.2,929.1 1782.7,923.6 1784.2,925.7 1785.8,927.7 1787.3,930.4 1788.9,933.7 1790.5,934.5 1792.1,932.7 1793.7,937.7 1795.2,939.3 1796.8,941.5 1798.4,941.1 1800.0,936.5 1801.6,937.6 1803.2,932.7 1804.7,933.2 1806.3,932.0 1807.9,932.7 1809.5,927.6 1811.1,929.5 1812.7,935.5 1814.2,937.1 1815.8,942.9 1817.3,939.3 1818.8,938.1 1820.3,939.8 1821.8,937.5 1823.3,937.7 1824.8,933.9 1826.3,936.7 1827.8,934.6 1829.3,936.9 1830.8,935.3 1832.3,935.3 1833.8,937.5 1835.3,938.6 1836.8,940.9 1838.4,940.5 1840.0,942.0 1841.6,942.9 1843.2,946.9 1844.7,943.3 1846.3,946.8 1847.9,946.2 1849.5,947.7 1851.1,944.1 1852.7,943.5 1854.2,938.0 1855.8,935.3 1857.4,934.0 1858.9,930.2 1860.5,929.8 1862.1,927.4 1863.7,925.7 1865.2,927.8 1866.8,926.3 1868.4,927.3 1870.0,927.6 1871.5,930.1 1873.1,928.1 1874.7,927.3 1876.3,929.4 1877.8,934.0 1879.4,932.7 1881.0,936.2 1882.6,935.9 1884.3,932.9 1885.9,934.8 1887.6,936.1 1889.2,934.7 1890.9,932.9 1892.5,934.4 1894.2,933.7 1895.8,935.0 1897.4,933.6 1899.0,935.8 1900.5,938.2 1902.1,939.8 1903.7,942.0 1905.2,943.6 1906.8,944.7 1908.4,945.5 1910.5,938.3 1912.6,928.8 1914.2,928.5 1915.8,928.4 1917.3,929.0 1918.9,928.7 1920.5,925.7 1922.1,926.7 1923.7,926.6 1925.3,924.8 1926.8,922.2 1928.4,920.9 1930.0,923.7 1931.6,923.2 1933.1,922.3 1934.6,920.5 1936.1,923.4 1937.6,922.9 1939.1,921.3 1940.6,920.9 1942.1,918.7 1943.6,921.8 1945.1,918.8 1946.6,921.4 1948.1,921.3 1949.6,920.4 1951.1,922.0 1952.6,919.6 1954.1,919.5 1955.7,918.6 1957.2,916.8 1958.7,914.9 1960.3,915.7 1961.8,913.6 1963.4,911.7 1964.9,910.6 1966.4,909.8 1968.0,911.3 1969.5,907.5 1971.6,909.2 1973.7,910.3 1975.3,908.3 1976.9,905.8 1978.5,906.6 1980.0,904.5 1981.6,901.5 1983.2,899.2 1986.0,924.6 1988.0,909.3 1990.0,932.0"/>
<polyline stroke="#0070E0" points="255.5,1467.0 257.5,1150.0 259.2,1105.0 261.0,1060.0 263.5,960.0 264.7,907.0 266.9,894.5 269.0,882.0 270.8,876.8 272.6,871.5 274.5,866.2 276.3,861.0 278.1,865.9 279.8,870.9 281.6,875.8 283.2,880.5 284.8,885.2 286.4,890.0 288.0,894.7 289.7,886.9 291.3,879.1 293.0,871.4 294.6,863.6 296.3,855.8 298.1,866.0 299.8,876.1 301.6,889.6 303.7,874.9 305.8,872.3 307.6,876.5 309.4,882.4 311.2,888.6 313.0,891.5 315.2,899.5 317.4,903.6 318.9,926.2 320.5,937.2 322.0,938.6 323.5,941.0 325.0,942.7 326.5,944.4 328.0,947.8 329.7,947.5 331.3,944.7 333.0,944.9 334.6,941.4 336.3,940.0 337.9,943.8 339.5,943.5 341.0,943.2 342.6,945.0 344.2,942.7 345.8,941.5 347.4,934.6 349.0,931.2 350.6,936.1 352.1,935.9 353.7,939.7 355.3,944.4 357.0,945.0 358.7,945.3 360.3,947.3 362.0,942.8 363.7,950.0 365.4,945.4 367.0,942.8 368.7,944.4 370.3,943.6 372.0,940.3 373.7,939.9 375.4,942.3 377.1,942.8 378.8,945.8 380.5,945.4 382.1,940.0 383.6,937.0 385.2,930.4 386.8,924.8 388.9,914.6 391.0,901.9 392.6,899.6 394.2,897.6 395.8,898.2 397.4,892.8 399.1,897.3 400.8,896.3 402.4,892.3 404.1,894.4 405.8,892.2 407.5,895.8 409.2,892.1 410.8,894.8 412.5,898.2 414.2,899.8 415.8,897.9 417.4,904.0 418.9,908.7 420.5,910.6 422.6,922.5 424.7,926.5 426.4,929.4 428.1,927.6 429.8,931.9 431.5,930.0 433.2,929.9 434.8,929.6 436.4,936.9 437.9,937.3 439.5,939.2 441.6,945.6 443.7,950.1 445.3,949.5 446.9,950.3 448.4,951.4 450.0,955.9 451.6,952.9 453.1,955.9 454.7,957.9 456.3,960.4 457.8,961.8 459.3,959.8 460.8,959.9 462.3,963.6 463.8,966.4 465.3,966.6 466.8,966.6 468.4,967.9 470.0,971.0 471.6,972.2 473.2,976.0 474.8,975.6 476.4,979.2 477.9,980.9 479.5,984.1 481.0,983.2 482.5,986.7 484.0,984.7 485.5,984.3 487.0,978.4 488.5,980.8 490.0,980.0 491.6,981.6 493.1,976.9 494.7,982.1 496.3,981.7 497.9,977.7 499.5,977.9 501.0,978.0 502.6,979.1 504.3,981.5 506.0,985.2 507.6,983.1 509.3,986.1 511.0,986.5 512.7,989.5 514.4,988.3 516.1,989.7 517.8,986.3 519.5,988.1 521.0,986.8 522.5,990.2 524.0,988.6 525.5,986.7 527.0,986.2 528.5,987.4 530.0,985.2 531.6,986.0 533.1,989.4 534.7,993.8 536.3,990.7 537.9,991.3 539.5,991.6 541.0,992.5 542.6,996.6 544.3,996.5 545.9,994.4 547.6,994.2 549.3,993.2 550.9,992.5 552.6,989.2 554.3,992.5 556.0,995.1 557.6,995.4 559.3,997.6 561.0,998.7 562.5,997.8 564.0,998.1 565.5,994.4 567.1,993.1 568.6,993.0 570.1,991.1 571.6,991.1 573.1,987.3 574.6,994.3 576.1,994.4 577.6,997.6 579.1,1001.0 580.6,1003.7 582.1,1005.9 583.8,1003.6 585.5,1005.1 587.1,1001.2 588.8,1000.6 590.5,1001.3 592.2,1000.2 593.9,1005.6 595.6,1004.8 597.3,1007.7 599.0,1005.3 600.6,1002.8 602.1,1001.9 603.7,1000.9 605.3,997.0 606.9,999.7 608.4,1000.2 610.0,1004.0 611.6,1001.6 613.2,1005.5 614.8,1004.0 616.3,1004.7 617.9,1006.3 619.6,1004.4 621.3,1005.5 622.9,1005.9 624.6,1003.4 626.3,1003.1 627.9,1002.6 629.5,998.3 631.0,996.1 632.6,993.3 634.2,995.9 635.8,1004.4 637.4,1005.1 639.0,1013.6 640.7,1011.1 642.4,1011.5 644.0,1008.1 645.7,1005.4 647.4,1005.9 649.0,1004.9 650.5,1006.1 652.1,1006.9 653.7,1007.2 655.5,1008.4 657.4,1008.7 659.2,1011.0 661.0,1009.2 662.9,1010.2 664.7,1006.5 666.5,1008.1 668.4,1006.2 669.9,1002.7 671.4,1007.7 672.9,1009.0 674.5,1009.2 676.0,1013.3 677.5,1013.4 679.0,1013.0 680.6,1013.4 682.1,1011.7 683.7,1010.2 685.3,1006.1 686.8,1007.1 688.4,1005.4 690.2,1003.9 692.1,1006.3 693.9,1008.8 695.8,1009.6 697.4,1016.7 699.0,1017.7 700.5,1019.2 702.1,1022.9 703.6,1023.5 705.1,1026.7 706.6,1022.1 708.1,1022.0 709.6,1022.0 711.1,1020.5 712.6,1023.6 714.1,1021.1 715.6,1025.1 717.1,1026.1 718.7,1028.8 720.2,1027.9 721.7,1034.6 723.2,1033.5 724.8,1031.3 726.3,1027.3 727.9,1025.2 729.5,1024.8 731.0,1023.0 732.6,1020.2 734.2,1023.4 735.8,1025.0 737.3,1026.3 738.9,1030.0 740.5,1032.0 742.1,1033.4 743.7,1037.1 745.2,1040.4 746.8,1041.2 748.4,1042.6 750.0,1041.9 751.6,1041.3 753.1,1035.5 754.7,1033.2 756.3,1030.6 757.9,1030.4 759.4,1027.7 760.9,1033.4 762.5,1037.0 764.0,1036.0 765.5,1041.9 767.0,1042.6 768.6,1043.1 770.1,1046.5 771.6,1045.9 773.7,1042.2 775.8,1040.8 777.4,1040.7 779.0,1049.3 780.5,1050.4 782.1,1056.3 783.7,1059.5 785.2,1060.6 786.8,1068.0 788.4,1074.0 790.0,1063.4 791.5,1054.7 793.1,1049.0 794.7,1039.0 796.4,1040.2 798.1,1044.8 799.8,1050.2 801.5,1051.0 803.2,1056.2 805.3,1047.7 807.4,1035.9 809.5,1043.4 811.6,1052.6 813.3,1052.1 815.0,1051.1 816.6,1047.6 818.3,1045.5 820.0,1041.4 821.6,1046.3 823.1,1048.7 824.7,1052.6 826.3,1056.8 827.4,953.7 829.2,952.0 831.0,952.4 832.9,950.1 834.7,949.0 836.6,952.6 838.6,952.5 840.5,958.4 842.3,960.8 844.0,963.9 845.8,971.7 847.9,965.3 850.0,957.9 851.6,962.6 853.1,961.4 854.7,959.6 856.3,967.6 858.4,966.4 860.5,968.4 861.6,1015.0 863.3,1014.9 865.0,1017.5 866.6,1025.2 868.3,1024.4 870.0,1029.8 871.8,1026.2 873.5,1018.4 875.3,1012.5 877.0,1005.8 878.8,999.9 880.5,990.3 882.1,975.2 883.7,957.7 885.5,962.4 887.4,960.0 889.2,960.9 891.0,965.4 893.1,959.9 895.3,957.3 896.9,958.6 898.5,961.9 900.0,960.5 901.6,963.1 903.3,959.5 905.0,962.6 906.6,966.9 908.3,963.8 910.0,964.2 912.1,967.6 914.2,974.6 915.8,971.1 917.4,966.0 918.9,966.1 920.5,962.5 922.1,965.7 923.6,965.8 925.2,972.0 926.8,972.3 928.4,968.5 930.0,965.0 931.6,962.5 933.2,961.4 934.8,959.0 936.4,960.7 937.9,959.4 939.5,960.1 941.2,954.3 943.0,948.0 944.7,940.1 946.6,947.4 948.4,951.8 950.2,954.5 952.1,958.8 953.8,957.6 955.5,958.1 957.1,957.7 958.8,961.8 960.5,960.3 962.2,963.9 963.9,967.1 965.6,973.7 967.3,980.9 969.0,983.9 970.7,983.1 972.4,987.6 974.0,988.6 975.7,988.9 977.4,989.7 979.0,990.0 980.5,988.8 982.1,988.9 983.7,986.2 985.3,993.2 986.9,994.6 988.4,1000.8 990.0,997.7 991.7,1000.7 993.4,999.7 995.0,996.1 996.7,995.9 998.4,994.9 1000.0,997.5 1001.5,998.6 1003.1,1002.2 1004.7,1006.9 1006.3,1004.4 1007.9,999.7 1009.4,996.7 1011.0,994.0 1012.7,997.0 1014.4,995.4 1016.1,996.6 1017.8,1000.6 1019.5,1000.3 1021.6,1007.5 1023.7,1014.8 1025.4,1016.7 1027.1,1015.5 1028.7,1019.8 1030.4,1016.9 1032.1,1021.9 1033.7,979.6 1035.3,941.2 1037.0,943.5 1038.8,941.1 1040.5,941.0 1042.6,1026.1 1044.1,1027.9 1045.6,1030.5 1047.1,1030.9 1048.7,1032.2 1050.2,1035.1 1051.7,1033.5 1053.2,1035.0 1054.9,1033.3 1056.6,1034.3 1058.2,1032.3 1059.9,1031.1 1061.6,1027.3 1063.7,1018.7 1065.8,1011.9 1067.9,1013.0 1070.0,1018.1 1071.6,1013.2 1073.2,1006.2 1074.7,1002.5 1076.3,997.7 1077.9,1001.7 1079.4,1004.1 1081.0,1000.9 1082.6,1002.1 1084.2,994.8 1085.8,995.1 1087.4,991.1 1089.0,985.7 1090.6,988.1 1092.2,983.8 1093.7,985.5 1095.3,985.5 1097.0,981.4 1098.7,982.9 1100.3,981.3 1102.0,975.5 1103.7,973.5 1105.4,978.2 1107.1,978.7 1108.7,978.3 1110.4,981.2 1112.1,983.0 1113.7,979.8 1115.3,978.2 1116.8,974.3 1118.4,973.4 1120.0,969.6 1121.6,965.3 1123.2,970.9 1124.7,976.2 1126.3,980.1 1127.9,976.0 1129.4,978.2 1131.0,975.9 1132.6,977.3 1134.3,976.1 1136.0,978.1 1137.6,979.0 1139.3,982.4 1141.0,981.3 1142.5,979.1 1144.0,978.5 1145.5,975.8 1147.1,975.3 1148.6,973.5 1150.1,972.4 1151.6,973.6 1153.2,970.9 1154.8,972.7 1156.3,973.3 1157.9,975.8 1159.6,969.9 1161.3,967.7 1162.9,965.8 1164.6,963.8 1166.3,959.9 1167.9,955.0 1169.4,950.2 1171.0,948.2 1172.6,945.5 1174.7,937.4 1176.8,930.8 1178.4,931.2 1180.0,929.0 1181.6,930.0 1183.2,930.1 1184.9,929.7 1186.6,927.9 1188.2,924.8 1189.9,927.3 1191.6,926.9 1193.4,921.2 1195.3,919.6 1197.2,916.8 1199.0,915.0 1200.7,913.4 1202.5,920.5 1204.2,919.3 1205.8,919.9 1207.3,915.9 1208.9,913.1 1210.5,911.4 1212.1,913.8 1213.7,911.8 1215.2,913.3 1216.8,913.9 1218.4,914.9 1220.0,922.6 1221.6,924.3 1223.2,926.3 1224.8,927.1 1226.3,922.7 1227.9,923.0 1229.5,924.9 1231.2,927.5 1233.0,926.3 1234.7,928.4 1236.5,931.2 1238.4,933.8 1240.2,930.5 1242.1,930.2 1243.7,930.8 1245.3,927.7 1246.8,928.7 1248.4,929.0 1250.0,927.7 1251.6,926.9 1253.4,930.9 1255.3,938.2 1257.2,942.2 1259.0,950.5 1260.6,948.6 1262.2,939.3 1263.7,933.1 1265.3,931.9 1267.4,931.1 1269.5,930.1 1271.6,941.7 1273.7,950.3 1275.3,951.0 1277.0,955.0 1278.6,952.0 1280.2,956.1 1281.9,954.7 1283.5,957.0 1285.1,957.6 1286.8,958.4 1288.4,959.2 1290.0,958.4 1291.6,962.6 1293.1,964.2 1294.7,966.8 1296.8,953.5 1298.9,936.4 1301.1,934.6 1303.2,933.5 1305.3,972.1 1307.4,1011.7 1309.0,1007.1 1310.6,1008.2 1312.1,1004.7 1313.7,1001.7 1315.3,995.2 1316.8,993.0 1318.4,989.0 1320.0,980.4 1321.7,984.7 1323.4,985.0 1325.0,982.4 1326.7,982.2 1328.4,984.9 1330.5,958.8 1332.6,931.2 1334.2,938.4 1335.8,943.9 1337.3,949.8 1338.9,952.0 1341.0,1003.3 1342.7,1001.1 1344.4,1002.4 1346.1,1001.9 1347.8,1003.5 1349.5,1001.6 1351.6,1007.1 1353.7,1015.6 1355.3,1011.7 1356.8,1003.7 1358.4,1001.1 1360.0,994.1 1361.8,1001.8 1363.7,1014.0 1365.6,1019.2 1367.4,1031.1 1369.0,1003.5 1370.5,979.7 1372.1,980.2 1373.7,984.0 1375.2,990.2 1376.8,991.9 1378.5,987.4 1380.2,982.5 1381.9,979.7 1383.6,972.5 1385.3,968.7 1387.0,980.8 1388.8,990.2 1390.5,1001.0 1392.3,994.3 1394.0,986.5 1395.8,978.6 1397.3,982.3 1398.8,981.8 1400.3,982.8 1401.8,981.4 1403.3,981.2 1404.8,980.3 1406.3,982.6 1408.2,979.9 1410.0,982.3 1412.1,970.7 1414.2,958.4 1415.9,957.8 1417.6,955.3 1419.2,957.8 1420.9,956.2 1422.6,959.2 1424.3,962.3 1426.0,968.5 1427.6,975.9 1429.3,977.9 1431.0,984.7 1433.2,969.2 1435.3,956.3 1437.0,961.7 1438.7,965.0 1440.3,964.1 1442.0,967.9 1443.7,968.2 1445.4,968.5 1447.1,968.6 1448.7,965.3 1450.4,962.9 1452.1,959.8 1453.8,957.2 1455.5,952.4 1457.1,946.6 1458.8,940.6 1460.5,932.7 1462.2,943.4 1463.9,946.4 1465.6,952.2 1467.3,959.5 1469.0,960.7 1470.7,960.6 1472.5,957.0 1474.2,954.3 1475.8,959.3 1477.3,961.3 1478.9,961.0 1480.5,966.9 1482.3,958.6 1484.0,949.4 1485.8,937.9 1487.4,942.4 1489.0,951.0 1490.5,955.8 1492.1,960.3 1493.7,962.7 1495.3,973.3 1497.4,932.2 1499.1,944.0 1500.9,955.6 1502.6,959.7 1504.2,954.0 1505.8,945.5 1507.4,943.2 1509.0,932.6 1510.6,933.5 1512.2,931.8 1513.7,928.3 1515.3,929.8 1517.0,932.0 1518.7,939.1 1520.3,946.1 1522.0,951.3 1523.7,958.6 1525.4,956.0 1527.1,950.7 1528.7,946.9 1530.4,943.6 1532.1,940.4 1533.7,947.6 1535.2,951.2 1536.8,957.5 1538.4,962.0 1540.1,954.0 1541.8,950.0 1543.4,940.2 1545.1,935.1 1546.8,930.8 1548.4,933.5 1550.0,942.0 1551.6,946.4 1553.2,955.0 1554.8,949.7 1556.3,947.8 1557.9,943.8 1559.5,941.2 1561.1,950.4 1562.7,955.2 1564.2,962.6 1565.8,968.3 1567.3,964.7 1568.8,960.5 1570.3,955.6 1571.8,955.3 1573.3,954.5 1574.8,949.4 1576.3,944.4 1577.9,949.4 1579.5,947.5 1581.1,948.6 1582.7,949.1 1584.2,950.9 1585.8,953.5 1587.4,958.6 1589.0,956.5 1590.5,953.9 1592.0,953.4 1593.5,952.8 1595.0,949.3 1596.5,951.0 1598.0,950.7 1599.5,948.9 1601.2,947.9 1602.9,943.4 1604.5,941.2 1606.2,944.5 1607.9,942.8 1609.4,938.8 1610.9,942.0 1612.4,942.0 1613.9,943.1 1615.4,942.9 1616.9,942.1 1618.4,943.5 1620.1,947.2 1621.8,950.7 1623.4,951.6 1625.1,953.5 1626.8,960.8 1628.4,961.9 1630.0,967.4 1631.5,970.6 1633.1,972.3 1634.7,973.8 1636.3,976.9 1637.9,970.8 1639.4,959.9 1641.0,954.7 1642.6,946.4 1644.4,951.3 1646.1,958.8 1647.9,961.0 1649.4,963.9 1650.9,961.2 1652.4,961.8 1653.9,961.6 1655.4,964.3 1656.9,962.4 1658.4,964.3 1660.0,965.5 1661.6,972.2 1663.1,976.6 1664.7,977.2 1666.5,976.3 1668.4,971.4 1670.2,970.8 1672.1,964.4 1673.9,952.6 1675.6,948.3 1677.4,936.6 1679.0,940.9 1680.6,947.3 1682.1,951.6 1683.7,959.7 1685.4,958.7 1687.1,963.2 1688.7,962.3 1690.4,959.0 1692.1,959.7 1693.9,965.9 1695.8,968.5 1697.7,976.1 1699.5,980.9 1701.3,974.0 1703.2,968.6 1705.0,964.5 1706.8,960.2 1708.4,949.7 1710.0,936.9 1712.6,938.2 1714.3,939.8 1716.0,945.9 1717.6,947.9 1719.3,954.8 1721.0,955.9 1723.2,947.9 1725.3,941.0 1726.9,958.2 1728.4,971.3 1730.0,989.1 1731.6,1006.5 1733.2,995.6 1734.8,982.9 1736.3,973.3 1737.9,961.7 1739.5,959.1 1741.1,952.4 1742.6,944.2 1744.2,937.5 1745.8,940.1 1747.3,940.8 1748.9,938.1 1750.5,938.2 1752.6,956.0 1754.7,974.6 1756.3,969.6 1757.8,960.2 1759.4,952.7 1761.0,941.0 1763.2,945.6 1765.3,946.4 1767.4,967.6 1769.1,969.6 1770.8,973.8 1772.4,978.0 1774.1,985.2 1775.8,987.4 1777.4,991.4 1778.9,996.3 1780.5,1001.5 1782.1,1010.7 1783.7,999.7 1785.2,995.5 1786.8,992.1 1788.4,987.2 1790.5,1007.2 1792.6,1030.8 1794.2,1018.6 1795.8,1006.8 1797.4,993.2 1799.0,983.6 1801.1,994.0 1803.2,1008.8 1804.8,998.8 1806.3,996.3 1807.9,987.0 1809.5,980.8 1811.1,987.5 1812.7,988.7 1814.2,994.2 1815.8,995.2 1817.4,1002.9 1818.9,1003.7 1820.5,1005.3 1822.1,1010.8 1823.8,1007.4 1825.5,1000.1 1827.1,997.5 1828.8,995.4 1830.5,988.9 1832.2,988.3 1833.9,988.2 1835.6,990.9 1837.3,988.4 1839.0,986.8 1840.7,988.5 1842.5,985.8 1844.2,988.2 1846.3,1001.4 1848.4,1015.3 1850.2,1009.3 1852.1,1006.1 1854.0,998.2 1855.8,992.9 1857.4,998.4 1858.9,1003.4 1860.5,1008.1 1862.1,1012.9 1863.7,1011.6 1865.2,1009.1 1866.8,1000.6 1868.4,1004.2 1869.9,1000.9 1871.4,1003.3 1872.9,1000.7 1874.5,1003.0 1876.0,1003.5 1877.5,1003.9 1879.0,1005.7 1880.6,997.4 1882.2,986.9 1883.7,980.4 1885.3,973.9 1887.0,978.9 1888.7,982.3 1890.3,987.5 1892.0,992.7 1893.7,996.3 1895.8,979.1 1897.9,966.8 1899.5,969.0 1901.1,975.0 1902.6,978.9 1904.2,987.5 1906.3,974.5 1908.4,957.7 1910.1,963.1 1911.8,965.3 1913.4,973.5 1915.1,976.4 1916.8,977.8 1918.4,966.4 1920.0,950.2 1921.8,956.1 1923.7,961.7 1925.6,965.9 1927.4,971.9 1929.5,963.2 1931.6,951.6 1933.1,953.2 1934.6,961.0 1936.1,960.4 1937.6,962.8 1939.1,965.6 1940.6,970.8 1942.1,974.3 1943.7,970.5 1945.2,968.9 1946.8,962.4 1948.4,961.6 1950.0,963.0 1951.6,965.4 1953.1,967.7 1954.7,965.2 1956.4,976.0 1958.1,972.2 1959.8,976.6 1961.5,979.9 1963.2,982.5 1965.3,976.2 1967.4,965.9 1969.0,979.4 1970.6,992.9 1972.1,1000.7 1973.7,1011.0 1975.8,997.4 1977.9,991.5 1979.5,990.9 1981.1,989.2 1982.6,990.9 1984.2,991.5 1986.1,988.5 1988.1,988.4 1990.0,987.4"/>
<polyline stroke="#00AF64" points="255.5,1467.0 256.0,1100.0 257.5,800.0 258.5,713.0 260.2,736.5 262.0,760.0 264.0,790.0 266.0,820.0 268.0,843.5 270.0,867.0 271.0,871.6 272.6,873.4 274.2,875.3 275.8,877.1 277.4,879.0 278.9,880.8 280.5,882.6 282.1,884.5 283.7,886.3 285.4,891.4 287.0,896.4 288.7,901.5 290.3,906.5 292.0,911.6 293.6,908.5 295.2,905.3 296.8,902.1 298.4,899.0 300.1,905.1 301.8,913.0 303.4,923.1 305.1,928.6 306.8,932.1 308.4,928.9 310.0,922.2 311.6,917.6 313.2,909.0 314.9,913.7 316.6,915.3 318.2,919.2 319.9,918.8 321.6,920.8 323.3,918.0 325.0,924.4 326.6,918.1 328.3,923.4 330.0,921.5 331.6,915.3 333.1,910.4 334.7,905.2 336.3,901.6 338.4,910.3 340.5,922.4 342.0,916.5 343.5,918.8 345.0,916.8 346.5,918.8 348.0,913.6 349.5,915.9 351.0,916.1 352.6,913.4 354.2,917.4 355.8,916.1 357.4,917.4 359.0,923.1 360.5,925.8 362.1,931.9 363.7,938.7 365.3,930.7 366.9,921.4 368.4,909.4 370.0,900.0 371.6,903.4 373.1,907.5 374.7,911.7 376.3,915.6 378.0,923.3 379.7,923.4 381.3,927.9 383.0,933.3 384.7,935.3 386.4,942.5 388.1,949.5 389.8,957.0 391.5,960.0 393.2,970.6 394.8,962.1 396.4,957.1 397.9,952.4 399.5,946.4 401.3,954.3 403.1,960.3 405.0,967.3 406.8,975.2 408.5,969.6 410.3,969.6 412.0,963.0 414.1,970.6 416.3,984.3 417.9,980.8 419.5,979.1 421.0,984.0 422.6,980.5 424.2,992.2 425.8,998.7 427.4,1009.1 429.0,1016.3 430.6,1023.8 432.1,1033.2 433.7,1042.5 435.3,1051.8 437.0,1048.9 438.7,1037.9 440.3,1035.7 442.0,1027.7 443.7,1023.0 445.3,1023.5 446.9,1026.1 448.4,1029.8 450.0,1031.8 451.6,1028.2 453.1,1021.5 454.7,1019.1 456.3,1011.8 457.8,1016.5 459.3,1022.7 460.8,1026.4 462.3,1030.2 463.8,1034.7 465.3,1039.3 466.8,1045.9 468.4,1043.4 470.0,1040.6 471.6,1039.2 473.2,1034.9 474.9,1038.7 476.6,1037.7 478.2,1044.3 479.9,1044.3 481.6,1046.6 483.7,1043.1 485.8,1037.9 487.5,1040.9 489.2,1046.5 490.8,1048.2 492.5,1049.9 494.2,1055.4 495.9,1048.2 497.6,1049.8 499.2,1043.1 500.9,1039.7 502.6,1039.4 504.7,1027.6 506.8,1012.8 508.4,1010.4 510.0,1008.0 511.6,1005.8 513.2,999.8 514.8,1006.0 516.4,1013.6 517.9,1017.8 519.5,1024.4 521.1,1031.0 522.6,1035.0 524.2,1042.3 525.8,1046.3 527.3,1051.7 528.9,1055.8 530.5,1053.5 532.0,1058.8 533.6,1056.0 535.2,1052.0 536.8,1049.7 538.4,1047.5 540.0,1047.3 541.5,1049.5 543.1,1051.2 544.7,1053.6 546.4,1057.0 548.2,1057.8 549.9,1063.4 551.6,1064.1 553.2,1053.4 554.7,1042.7 556.3,1042.1 557.9,1041.9 559.4,1042.5 561.0,1041.2 562.9,1039.5 564.7,1038.6 566.5,1038.9 568.4,1035.6 570.1,1043.9 571.8,1046.2 573.4,1046.2 575.1,1055.3 576.8,1063.7 578.6,1058.7 580.5,1055.6 582.4,1052.6 584.2,1053.7 586.0,1056.3 587.7,1058.9 589.5,1061.7 591.3,1059.9 593.1,1055.5 595.0,1048.8 596.8,1048.6 598.4,1049.5 600.0,1050.9 601.6,1054.1 603.2,1054.7 605.3,1059.5 607.4,1076.2 608.9,1077.2 610.4,1077.1 611.9,1078.5 613.4,1081.3 614.9,1080.6 616.4,1085.0 617.9,1085.9 619.6,1082.8 621.3,1078.9 622.9,1076.4 624.6,1076.3 626.3,1073.7 627.9,1068.7 629.5,1064.1 631.0,1059.1 632.6,1057.9 634.2,1059.4 635.8,1054.2 637.4,1058.7 639.0,1053.3 640.8,1052.3 642.6,1049.5 644.5,1042.8 646.3,1038.6 648.1,1046.3 650.0,1052.4 651.9,1055.2 653.7,1063.2 655.8,1051.4 657.9,1047.0 659.6,1043.8 661.3,1043.3 662.9,1043.3 664.6,1042.2 666.3,1044.0 668.4,1061.9 670.5,1076.7 672.3,1079.0 674.0,1080.9 675.8,1085.1 677.4,1083.9 679.0,1081.2 680.5,1078.9 682.1,1076.5 683.7,1074.8 685.3,1069.4 686.8,1069.4 688.3,1072.2 689.8,1071.1 691.3,1068.3 692.8,1070.7 694.3,1066.9 695.8,1067.0 697.4,1059.7 699.0,1059.3 700.5,1053.1 702.1,1050.1 703.7,1051.1 705.2,1051.7 706.8,1053.4 708.4,1056.6 710.5,1049.2 712.6,1044.0 714.3,1047.7 716.0,1052.2 717.6,1055.8 719.3,1060.7 721.0,1060.9 722.7,1065.6 724.4,1065.1 726.1,1069.6 727.8,1071.4 729.5,1076.5 731.2,1072.6 732.9,1068.8 734.5,1068.4 736.2,1065.9 737.9,1062.8 739.4,1064.3 740.9,1064.8 742.4,1072.2 743.9,1069.5 745.4,1072.3 746.9,1070.4 748.4,1072.0 750.5,1061.9 752.6,1050.3 754.3,1051.0 756.0,1047.3 757.6,1048.9 759.3,1049.6 761.0,1044.9 762.5,1047.2 764.0,1043.6 765.5,1045.1 767.1,1044.6 768.6,1046.2 770.1,1041.7 771.6,1042.5 773.2,1043.6 774.8,1039.8 776.3,1041.4 777.9,1039.7 779.5,1039.7 781.1,1041.7 782.6,1041.5 784.2,1044.2 785.8,1037.0 787.4,1031.6 788.9,1024.1 790.5,1018.6 792.1,1018.7 793.6,1014.3 795.2,1020.1 796.8,1015.8 798.4,1023.6 800.0,1033.0 801.6,1043.5 803.2,1052.6 804.8,1048.4 806.4,1048.1 807.9,1045.7 809.5,1042.7 811.2,1041.2 812.9,1037.6 814.5,1031.7 816.2,1032.6 817.9,1024.9 819.6,1027.0 821.3,1024.1 822.9,1023.6 824.6,1023.0 826.3,1024.4 828.1,1011.4 829.8,1003.3 831.6,996.2 834.2,992.6 835.9,994.5 837.6,996.5 839.2,995.3 840.9,997.8 842.6,996.9 844.7,990.6 846.3,995.9 847.9,1000.6 849.4,1010.7 851.0,1014.6 852.8,1015.0 854.5,1014.6 856.3,1016.1 858.1,1008.3 859.8,1000.3 861.6,993.4 863.7,999.0 865.8,1010.0 867.4,1016.3 869.0,1018.5 870.5,1022.8 872.1,1028.5 873.7,1030.4 875.3,1034.5 877.1,1030.5 879.0,1030.2 880.8,1025.9 882.6,1019.9 884.1,1025.2 885.6,1025.8 887.1,1032.7 888.7,1035.3 890.2,1037.3 891.7,1040.3 893.2,1041.3 894.9,1042.3 896.6,1037.7 898.2,1034.2 899.9,1032.7 901.6,1027.3 903.2,1032.5 904.8,1037.3 906.3,1041.2 907.9,1052.3 909.5,1044.7 911.0,1041.0 912.6,1039.6 914.2,1029.7 915.9,1039.1 917.6,1043.6 919.2,1046.4 920.9,1053.1 922.6,1053.5 924.2,1056.8 925.8,1058.2 927.4,1053.2 929.0,1054.4 930.5,1056.5 932.1,1056.7 933.7,1055.6 935.3,1057.2 937.4,1052.8 939.5,1046.1 941.0,1046.2 942.5,1042.5 944.0,1039.5 945.5,1037.1 947.0,1040.8 948.5,1037.1 950.0,1038.7 951.5,1034.8 953.0,1038.3 954.5,1041.0 956.0,1041.9 957.5,1044.6 959.0,1045.7 960.5,1046.1 962.2,1041.1 963.9,1041.0 965.6,1042.9 967.3,1039.1 969.0,1037.8 970.5,1035.2 972.0,1036.5 973.5,1036.0 975.0,1038.6 976.5,1038.7 978.0,1039.9 979.5,1042.6 981.0,1040.4 982.5,1044.9 984.0,1043.4 985.5,1049.4 987.0,1048.9 988.5,1051.4 990.0,1053.7 991.7,1055.5 993.4,1052.2 995.0,1050.8 996.7,1049.1 998.4,1050.7 999.9,1051.4 1001.4,1054.3 1002.9,1057.5 1004.5,1061.0 1006.0,1061.2 1007.5,1065.9 1009.0,1070.0 1010.5,1060.9 1012.0,1061.6 1013.5,1058.9 1015.0,1050.6 1016.5,1048.6 1018.0,1041.5 1019.5,1040.4 1021.0,1041.7 1022.5,1045.1 1024.0,1045.5 1025.5,1048.1 1027.0,1051.1 1028.5,1053.1 1030.0,1055.6 1031.7,1056.3 1033.4,1054.8 1035.0,1056.3 1036.7,1057.3 1038.4,1052.9 1040.0,1061.1 1041.6,1063.8 1043.1,1067.4 1044.7,1071.3 1046.4,1070.4 1048.1,1068.9 1049.8,1069.0 1051.5,1064.7 1053.2,1066.7 1054.8,1066.9 1056.3,1072.4 1057.9,1076.2 1059.5,1075.7 1061.0,1082.5 1062.6,1087.5 1064.1,1080.5 1065.6,1079.3 1067.2,1075.4 1068.7,1073.0 1070.2,1069.8 1071.7,1066.5 1073.3,1065.6 1074.8,1063.1 1076.3,1058.9 1077.9,1064.0 1079.4,1065.9 1081.0,1067.9 1082.6,1068.3 1084.3,1069.5 1086.0,1065.7 1087.6,1057.1 1089.3,1055.9 1091.0,1053.9 1092.6,1056.4 1094.2,1057.2 1095.8,1055.0 1097.3,1056.1 1098.9,1057.1 1100.5,1054.2 1102.1,1057.5 1103.7,1056.3 1105.3,1055.5 1106.8,1053.6 1108.4,1050.2 1110.0,1048.9 1111.8,1040.1 1113.5,1029.7 1115.3,1018.6 1117.1,1025.9 1118.9,1028.9 1120.8,1032.8 1122.6,1039.4 1124.5,1043.2 1126.5,1046.8 1128.4,1052.4 1130.5,1044.0 1132.6,1037.5 1134.7,1045.2 1136.8,1052.3 1138.9,1044.8 1141.0,1033.3 1142.7,1039.5 1144.3,1042.9 1146.0,1050.1 1147.6,1054.8 1149.3,1061.4 1150.9,1069.1 1152.6,1075.4 1154.4,1064.8 1156.1,1054.7 1157.9,1047.6 1159.5,1044.1 1161.1,1040.1 1162.6,1038.3 1164.2,1035.4 1166.3,1047.4 1168.4,1063.2 1170.0,1060.7 1171.6,1061.3 1173.1,1063.8 1174.7,1062.1 1176.4,1064.3 1178.1,1067.7 1179.8,1072.8 1181.5,1075.6 1183.2,1078.4 1185.3,1064.5 1187.4,1051.2 1189.0,1058.0 1190.6,1058.2 1192.1,1064.1 1193.7,1066.3 1195.3,1071.7 1196.8,1076.1 1198.4,1082.2 1200.0,1079.6 1201.8,1080.1 1203.7,1070.2 1205.6,1065.8 1207.4,1060.3 1209.0,1056.7 1210.5,1056.8 1212.1,1056.6 1213.7,1054.6 1215.2,1052.5 1216.8,1052.9 1218.4,1054.9 1220.0,1054.4 1221.6,1061.1 1223.2,1061.4 1224.7,1055.7 1226.2,1056.7 1227.7,1059.3 1229.2,1057.5 1230.8,1053.9 1232.3,1049.3 1233.8,1050.1 1235.3,1050.7 1236.8,1048.1 1238.6,1051.5 1240.3,1055.3 1242.1,1062.4 1243.7,1057.3 1245.2,1054.8 1246.8,1051.7 1248.4,1050.1 1250.0,1057.0 1251.6,1066.3 1253.1,1072.2 1254.7,1086.0 1256.3,1083.6 1257.8,1080.0 1259.4,1074.3 1261.0,1075.0 1262.5,1071.2 1264.0,1069.6 1265.5,1062.4 1267.1,1057.9 1268.6,1053.1 1270.1,1049.1 1271.6,1040.3 1273.3,1044.2 1275.0,1047.0 1276.6,1051.8 1278.3,1055.1 1280.0,1059.2 1281.6,1058.5 1283.2,1061.3 1284.7,1060.8 1286.3,1066.6 1287.9,1063.5 1289.4,1069.4 1291.0,1069.0 1292.6,1065.5 1294.3,1069.8 1296.0,1070.1 1297.6,1067.5 1299.3,1071.8 1301.0,1071.5 1302.7,1076.0 1304.4,1077.8 1306.1,1082.9 1307.8,1087.4 1309.5,1090.3 1311.0,1086.3 1312.5,1083.7 1314.0,1079.1 1315.5,1077.9 1317.0,1069.9 1318.5,1073.2 1320.0,1067.5 1321.5,1068.2 1323.0,1068.8 1324.5,1065.5 1326.0,1071.1 1327.5,1065.6 1329.0,1068.2 1330.5,1068.0 1332.3,1077.2 1334.0,1082.8 1335.8,1088.3 1337.7,1087.4 1339.5,1079.2 1341.3,1079.2 1343.2,1075.1 1345.3,1084.6 1347.4,1088.0 1349.5,1059.3 1351.6,1030.4 1353.2,1034.5 1354.8,1039.1 1356.3,1045.2 1357.9,1046.3 1360.0,1062.8 1362.1,1075.6 1363.7,1076.3 1365.2,1075.6 1366.8,1072.0 1368.4,1071.7 1370.0,1071.5 1371.5,1071.3 1373.1,1070.2 1374.7,1067.2 1376.3,1067.2 1378.0,1067.6 1379.6,1072.9 1381.3,1075.2 1382.9,1075.0 1384.6,1078.3 1386.2,1076.5 1387.9,1078.0 1389.5,1082.5 1391.2,1076.7 1392.9,1077.6 1394.5,1075.6 1396.2,1073.5 1397.9,1074.4 1399.5,1069.9 1401.1,1070.4 1402.6,1067.5 1404.2,1068.9 1405.8,1069.5 1407.3,1069.4 1408.9,1069.4 1410.5,1070.0 1412.1,1068.8 1413.7,1067.2 1415.2,1071.0 1416.8,1071.9 1418.4,1069.7 1420.1,1072.4 1421.8,1078.6 1423.4,1079.5 1425.1,1081.7 1426.8,1083.2 1428.3,1083.2 1429.8,1083.1 1431.3,1085.7 1432.9,1085.4 1434.4,1085.9 1435.9,1087.5 1437.4,1088.3 1439.1,1087.7 1440.8,1082.7 1442.4,1086.1 1444.1,1078.4 1445.8,1077.2 1447.4,1075.7 1448.9,1069.2 1450.5,1066.1 1452.1,1063.2 1453.7,1058.2 1455.4,1061.9 1457.0,1060.9 1458.6,1061.8 1460.3,1062.8 1461.9,1062.8 1463.5,1063.9 1465.2,1063.6 1466.8,1062.7 1468.4,1057.8 1470.0,1056.4 1471.6,1049.9 1473.2,1048.2 1474.9,1049.0 1476.6,1046.3 1478.2,1041.1 1479.9,1040.7 1481.6,1041.5 1483.3,1041.0 1485.0,1041.7 1486.6,1037.2 1488.3,1038.0 1490.0,1039.6 1491.8,1036.3 1493.5,1035.8 1495.3,1033.7 1496.8,1044.8 1498.4,1054.5 1500.0,1057.2 1501.6,1059.2 1503.1,1059.7 1504.7,1059.1 1506.3,1064.7 1507.8,1064.6 1509.4,1066.5 1511.0,1067.7 1513.2,1059.5 1515.3,1057.8 1516.9,1059.5 1518.4,1062.3 1520.0,1070.0 1521.6,1071.1 1523.1,1073.3 1524.6,1075.5 1526.1,1077.8 1527.6,1073.5 1529.1,1076.4 1530.6,1079.9 1532.1,1079.0 1533.7,1073.5 1535.2,1077.6 1536.8,1076.5 1538.4,1076.1 1540.0,1073.8 1541.5,1071.4 1543.1,1071.2 1544.7,1069.5 1546.2,1069.1 1547.8,1070.7 1549.3,1071.2 1550.8,1069.4 1552.4,1073.1 1553.9,1073.2 1555.5,1073.5 1557.0,1068.2 1558.5,1073.2 1560.1,1073.1 1561.6,1072.1 1563.3,1077.4 1565.0,1076.8 1566.6,1083.9 1568.3,1085.3 1570.0,1086.6 1571.7,1088.7 1573.4,1086.0 1575.0,1084.8 1576.7,1081.1 1578.4,1083.0 1580.1,1086.9 1581.8,1088.9 1583.4,1087.6 1585.1,1094.4 1586.8,1097.3 1588.5,1093.1 1590.2,1088.2 1591.9,1083.5 1593.6,1081.5 1595.3,1079.1 1596.9,1081.0 1598.6,1082.1 1600.2,1080.6 1601.8,1079.7 1603.5,1082.3 1605.1,1081.4 1606.7,1086.2 1608.4,1082.7 1610.0,1086.0 1611.5,1087.9 1613.0,1086.4 1614.5,1090.9 1616.0,1090.4 1617.5,1090.7 1619.0,1091.8 1620.5,1094.8 1622.0,1096.2 1623.5,1091.3 1625.0,1095.2 1626.5,1093.8 1628.0,1092.7 1629.5,1093.6 1631.0,1093.6 1632.6,1092.7 1634.2,1093.4 1635.8,1089.8 1637.3,1093.7 1638.9,1091.1 1640.5,1087.9 1642.1,1085.0 1643.7,1087.3 1645.3,1089.0 1646.8,1093.2 1648.4,1095.6 1650.0,1099.8 1651.6,1093.4 1653.2,1091.7 1654.7,1086.6 1656.3,1083.6 1658.0,1086.2 1659.7,1083.1 1661.3,1082.7 1663.0,1081.9 1664.7,1082.6 1666.3,1083.3 1667.9,1082.4 1669.5,1081.0 1671.1,1083.7 1672.6,1082.1 1674.2,1083.1 1675.8,1084.3 1677.4,1084.6 1679.1,1081.9 1680.8,1089.9 1682.4,1089.9 1684.1,1093.2 1685.8,1095.7 1687.4,1090.7 1689.1,1091.8 1690.7,1093.7 1692.3,1095.4 1694.0,1093.6 1695.6,1094.5 1697.2,1097.4 1698.9,1094.8 1700.5,1097.1 1702.2,1097.5 1703.8,1094.2 1705.5,1094.9 1707.2,1092.4 1708.8,1088.9 1710.5,1089.6 1712.0,1090.7 1713.6,1091.0 1715.1,1092.2 1716.6,1093.3 1718.2,1093.7 1719.7,1094.1 1721.3,1093.7 1722.8,1094.6 1724.3,1094.9 1725.9,1095.1 1727.4,1098.9 1729.1,1091.9 1730.8,1093.7 1732.4,1089.0 1734.1,1088.9 1735.8,1089.5 1737.4,1088.3 1739.0,1091.5 1740.5,1088.2 1742.1,1089.8 1743.7,1089.8 1745.2,1091.3 1746.8,1091.3 1748.4,1091.7 1750.1,1090.4 1751.8,1089.9 1753.4,1086.3 1755.1,1084.0 1756.8,1081.3 1758.3,1082.1 1759.8,1082.4 1761.3,1084.6 1762.9,1087.8 1764.4,1086.2 1765.9,1091.8 1767.4,1091.6 1768.9,1090.5 1770.5,1091.0 1772.0,1092.7 1773.5,1092.0 1775.0,1091.7 1776.6,1093.9 1778.1,1094.7 1779.6,1088.7 1781.1,1092.0 1782.7,1089.2 1784.2,1088.0 1785.8,1086.3 1787.3,1085.6 1788.9,1080.3 1790.5,1077.0 1792.2,1079.2 1793.9,1076.9 1795.6,1075.1 1797.3,1077.4 1799.0,1074.4 1800.7,1073.7 1802.4,1074.4 1804.0,1076.8 1805.7,1079.0 1807.4,1081.5 1809.1,1079.7 1810.8,1076.8 1812.4,1073.1 1814.1,1074.8 1815.8,1071.8 1817.3,1068.3 1818.8,1066.6 1820.3,1067.4 1821.8,1066.1 1823.3,1065.3 1824.8,1060.5 1826.3,1064.1 1827.8,1059.0 1829.3,1062.7 1830.8,1065.9 1832.3,1066.3 1833.8,1064.0 1835.3,1067.4 1836.8,1069.3 1838.5,1069.4 1840.2,1067.4 1841.9,1072.6 1843.6,1068.1 1845.3,1071.6 1847.0,1067.7 1848.7,1066.6 1850.3,1064.6 1852.0,1063.8 1853.7,1058.9 1855.2,1061.6 1856.7,1063.6 1858.2,1061.9 1859.7,1063.0 1861.2,1063.1 1862.7,1061.5 1864.2,1062.4 1865.7,1063.4 1867.2,1064.4 1868.7,1067.2 1870.2,1066.9 1871.7,1063.8 1873.2,1064.2 1874.7,1063.6 1876.2,1060.7 1877.7,1065.8 1879.2,1063.8 1880.8,1059.0 1882.3,1061.4 1883.8,1064.5 1885.3,1060.7 1886.9,1060.6 1888.5,1060.0 1890.0,1058.3 1891.6,1057.5 1893.2,1057.9 1894.8,1059.3 1896.3,1058.6 1897.9,1059.9 1899.6,1064.6 1901.3,1065.7 1902.9,1069.1 1904.6,1070.1 1906.3,1071.5 1907.9,1077.9 1909.5,1076.4 1911.0,1077.9 1912.6,1076.2 1914.2,1074.8 1915.8,1080.5 1917.3,1075.7 1918.9,1079.7 1920.5,1077.0 1922.1,1076.1 1923.7,1075.0 1925.3,1072.9 1927.0,1066.9 1928.7,1070.6 1930.3,1064.7 1932.0,1067.6 1933.7,1064.5 1935.3,1067.1 1936.8,1071.7 1938.4,1074.1 1940.0,1079.9 1941.6,1080.9 1943.2,1080.2 1944.7,1078.4 1946.3,1079.6 1947.9,1078.1 1949.4,1080.3 1951.0,1077.1 1952.6,1074.8 1954.2,1075.5 1955.8,1075.0 1957.4,1076.1 1958.9,1076.6 1960.5,1078.2 1962.1,1078.6 1963.7,1077.7 1965.3,1078.5 1966.9,1073.5 1968.4,1070.7 1970.0,1064.4 1971.6,1064.0 1973.1,1064.7 1974.6,1070.0 1976.1,1063.9 1977.6,1066.6 1979.1,1066.2 1980.6,1064.5 1982.1,1067.8 1983.7,1065.2 1985.3,1060.7 1986.8,1057.2 1988.4,1058.8 1990.0,1056.8"/>
<line x1="259" y1="812" x2="259" y2="600" stroke="#E09B00" stroke-width="8"/>
<polyline stroke="#E09B00" points="256.0,1467.0 256.5,1100.0 257.0,800.0 257.5,640.0 259.5,575.0 261.5,540.0 264.0,531.0 266.0,548.5 268.0,566.0 269.7,559.3 271.3,552.7 273.0,546.0 275.0,598.0 277.0,650.0 278.5,641.5 280.0,633.0 281.5,624.5 283.0,616.0 284.7,609.3 286.3,602.7 288.0,596.0 289.5,595.2 291.0,594.5 292.5,593.8 294.0,593.0 295.5,592.2 297.0,591.5 298.5,590.8 300.0,590.0 301.5,586.6 303.0,583.7 304.5,583.6 306.0,582.7 307.6,578.7 309.2,571.8 310.8,565.5 312.4,559.9 314.0,557.3 315.7,555.4 317.3,549.8 319.0,543.9 320.5,545.9 322.0,551.7 323.5,550.8 325.0,549.1 326.5,553.4 328.0,553.0 329.5,549.9 331.0,546.2 332.5,541.8 334.0,539.9 336.0,542.4 338.0,545.0 339.5,546.7 341.0,547.4 342.5,543.2 344.0,545.6 346.0,539.8 348.0,536.7 349.5,536.6 351.0,540.5 352.5,542.2 354.0,543.5 356.0,541.7 358.0,542.3 359.5,537.1 361.0,532.7 362.5,531.4 364.0,525.1 365.7,529.2 367.3,528.6 369.0,524.1 370.7,528.1 372.3,526.0 374.0,528.1 375.6,528.7 377.2,525.8 378.8,529.4 380.4,530.0 382.0,532.6 383.5,527.5 385.0,529.3 386.5,524.6 388.0,524.4 389.5,526.6 391.0,533.5 393.0,525.0 395.0,521.1 396.7,523.4 398.3,529.1 400.0,534.4 401.6,529.8 403.2,528.5 404.8,528.7 406.4,523.5 408.0,522.3 409.5,522.6 411.0,524.3 412.5,523.3 414.0,524.2 415.5,525.5 417.0,525.9 418.5,524.9 420.0,528.5 421.7,524.8 423.3,525.0 425.0,524.8 426.7,528.6 428.3,526.4 430.0,525.3 431.5,527.6 433.0,532.7 434.5,528.8 436.0,527.1 437.5,528.9 439.0,524.5 440.5,524.6 442.0,523.7 443.5,521.6 445.0,520.9 446.8,526.5 448.5,526.6 450.2,528.6 452.0,530.9 453.7,533.0 455.3,532.1 457.0,532.5 458.7,530.5 460.3,529.9 462.0,528.8 463.6,527.5 465.2,527.1 466.8,524.6 468.4,523.8 470.0,525.2 471.5,524.8 473.0,523.3 474.5,530.9 476.0,530.6 477.5,522.9 479.0,520.5 480.8,524.0 482.7,528.0 484.5,532.9 486.2,530.3 487.8,530.1 489.5,529.8 491.1,526.9 492.6,527.6 494.2,529.5 495.7,523.7 497.3,525.7 498.8,524.1 500.4,522.3 501.9,521.8 503.5,523.0 505.2,526.4 506.8,527.4 508.5,531.1 510.2,534.9 511.8,536.8 513.5,540.5 515.1,537.6 516.7,535.4 518.3,535.5 519.9,531.3 521.5,528.2 523.3,530.4 525.1,528.8 526.8,531.0 528.6,534.1 530.4,535.1 532.1,535.0 533.7,530.7 535.4,526.5 536.9,534.0 538.4,534.2 539.9,532.2 541.4,538.0 542.9,537.4 544.4,535.9 545.9,536.8 547.4,535.1 548.9,537.2 550.4,531.7 551.9,531.1 553.4,529.5 555.1,532.0 556.7,533.8 558.4,538.4 560.1,537.1 561.9,533.6 563.6,528.2 565.4,525.0 566.9,530.7 568.4,532.8 569.9,536.4 571.4,538.1 573.0,545.7 574.6,545.4 576.1,543.5 577.7,548.1 579.3,550.3 580.8,535.9 582.3,531.1 583.8,533.3 585.3,537.1 586.8,537.8 588.3,539.6 589.8,541.9 591.3,547.2 593.0,546.7 594.6,541.1 596.3,539.4 598.0,544.6 599.6,537.3 601.3,537.0 602.9,536.7 604.5,536.0 606.1,535.5 607.7,533.1 609.3,529.5 611.0,530.5 612.6,528.8 614.3,530.2 616.0,525.6 617.6,522.1 619.3,521.2 621.3,532.0 623.3,535.1 625.3,529.1 627.2,528.3 629.2,526.0 630.7,528.4 632.2,525.0 633.7,528.3 635.2,528.9 636.7,526.7 638.2,527.9 639.7,531.6 641.2,531.9 642.7,529.9 644.3,528.4 645.8,529.2 647.4,526.5 648.9,526.0 650.5,524.1 652.0,525.0 653.5,524.6 655.0,529.2 656.5,523.9 658.0,526.2 659.5,526.0 661.0,523.2 662.5,525.2 664.0,519.3 665.7,526.5 667.3,531.1 669.0,528.9 670.5,530.0 672.0,532.8 673.5,529.6 675.0,527.1 676.5,527.4 678.0,526.1 679.5,529.0 681.0,529.3 682.5,528.8 684.0,528.9 685.5,530.7 687.0,533.8 688.5,532.8 690.0,534.1 691.5,528.2 693.0,521.8 694.8,525.0 696.5,529.6 698.2,530.9 700.0,531.5 701.6,529.4 703.2,531.6 704.8,530.0 706.4,529.2 708.0,528.4 709.6,530.9 711.2,532.3 712.8,534.8 714.4,536.2 716.0,538.3 717.6,536.6 719.2,533.8 720.8,533.5 722.4,533.6 724.0,531.5 725.8,532.2 727.5,532.5 729.2,528.4 731.0,526.0 732.7,535.0 734.3,537.0 736.0,542.2 737.5,535.7 739.0,537.9 740.5,533.3 742.0,528.8 743.6,527.4 745.2,527.2 746.8,525.7 748.4,524.5 750.0,522.1 751.5,528.4 753.0,528.4 754.5,530.9 756.0,533.2 757.6,527.6 759.2,531.1 760.8,528.2 762.4,526.9 764.0,526.1 765.7,526.3 767.3,531.4 769.0,530.8 770.7,532.5 772.3,534.5 774.0,538.3 775.6,536.1 777.2,530.6 778.8,525.8 780.4,527.0 782.0,520.2 783.7,523.5 785.3,520.9 787.0,519.3 788.7,518.9 790.3,520.3 792.0,520.5 793.5,520.9 795.0,525.1 796.5,529.3 798.0,527.6 799.6,528.6 801.2,531.4 802.8,533.4 804.4,537.3 806.0,539.8 807.7,532.7 809.3,529.9 811.0,518.6 812.7,523.8 814.3,532.4 816.0,533.8 817.5,530.9 819.0,528.8 820.5,529.0 822.0,524.9 823.6,524.0 825.2,521.7 826.8,523.6 828.4,522.4 830.0,522.3 831.6,522.2 833.2,523.2 834.8,522.6 836.4,524.6 838.0,520.7 840.0,529.7 841.5,531.2 843.0,526.1 844.5,526.0 846.0,523.9 847.7,525.2 849.3,525.3 851.0,522.7 852.7,525.5 854.3,526.4 856.0,525.4 857.7,525.2 859.3,521.9 861.0,519.2 862.7,526.4 864.3,529.9 866.0,532.8 867.7,529.6 869.3,527.4 871.0,524.8 872.7,522.0 874.3,519.7 876.0,516.3 878.0,522.7 880.0,527.9 881.8,526.3 883.7,523.2 885.5,522.0 887.5,533.2 889.5,541.7 891.0,538.1 892.5,530.1 894.0,525.9 895.5,527.2 897.0,523.4 898.5,521.4 900.2,523.0 902.0,524.9 903.8,527.3 905.5,527.6 907.2,529.3 908.8,524.6 910.5,524.4 912.2,521.7 913.8,519.6 915.5,518.5 917.3,520.2 919.1,524.3 920.8,527.5 922.6,532.4 924.4,539.8 926.0,535.0 927.5,536.2 929.1,534.1 930.7,532.5 932.3,531.2 933.8,526.7 935.4,527.6 937.1,530.4 938.7,527.2 940.4,528.9 942.1,528.5 943.7,530.9 945.4,529.2 947.1,530.7 948.9,524.4 950.6,519.4 952.4,522.0 953.9,522.3 955.4,523.2 956.9,524.9 958.4,525.1 959.9,527.0 961.4,530.2 963.4,528.2 965.3,525.9 967.3,522.4 968.8,529.7 970.3,538.7 972.0,535.2 973.6,530.1 975.3,521.4 977.3,527.2 979.3,536.1 980.9,534.2 982.5,533.2 984.1,528.8 985.7,529.4 987.3,528.1 988.8,531.9 990.3,531.1 991.8,538.7 993.3,539.5 994.8,536.2 996.3,530.0 997.8,528.5 999.3,527.3 1001.0,522.0 1002.6,524.9 1004.3,525.2 1006.0,522.5 1007.6,524.7 1009.3,522.4 1010.9,526.7 1012.5,527.1 1014.0,528.2 1015.6,532.8 1017.2,532.4 1018.8,531.8 1020.3,526.1 1021.9,525.6 1023.5,526.7 1025.1,525.4 1026.6,522.3 1028.2,522.3 1029.9,521.9 1031.5,526.7 1033.2,527.0 1034.9,529.1 1036.6,527.2 1038.3,526.4 1040.0,527.1 1041.7,529.4 1043.3,523.9 1045.0,524.0 1047.0,534.3 1049.0,539.3 1050.5,536.5 1052.0,527.4 1053.5,526.4 1055.0,526.1 1056.5,527.7 1058.0,525.1 1059.6,527.9 1061.2,530.4 1062.8,530.3 1064.4,534.5 1066.0,541.5 1068.0,535.4 1070.0,529.9 1071.5,532.6 1073.0,533.1 1074.5,537.1 1076.0,537.5 1077.7,536.3 1079.3,531.1 1081.0,528.6 1082.6,529.8 1084.2,528.4 1085.8,530.1 1087.4,529.8 1089.0,529.6 1090.7,534.3 1092.3,532.5 1094.0,535.3 1096.0,536.0 1098.0,533.6 1099.6,536.4 1101.2,535.3 1102.8,536.4 1104.4,534.5 1106.0,538.3 1108.0,542.6 1110.0,544.2 1112.0,540.0 1114.0,536.8 1115.7,539.8 1117.3,536.7 1119.0,544.1 1120.6,541.4 1122.2,537.7 1123.8,535.5 1125.4,532.8 1127.0,527.3 1128.5,534.7 1130.0,538.6 1131.5,542.4 1133.0,549.4 1134.6,549.5 1136.2,542.5 1137.8,540.2 1139.4,538.2 1141.0,542.4 1142.5,547.6 1144.0,556.9 1145.7,552.3 1147.3,548.7 1149.0,543.6 1150.6,546.4 1152.1,545.7 1153.7,541.1 1155.3,541.8 1156.9,541.4 1158.4,541.8 1160.0,541.4 1161.7,544.6 1163.3,546.7 1165.0,547.8 1166.5,546.5 1168.0,540.5 1169.5,539.8 1171.0,540.9 1172.5,538.2 1174.0,536.5 1175.5,531.9 1177.0,530.8 1178.6,536.4 1180.2,537.0 1181.8,537.1 1183.4,538.1 1185.0,537.1 1186.8,543.4 1188.5,547.3 1190.2,551.0 1192.0,551.1 1193.7,547.3 1195.3,542.5 1197.0,543.1 1198.6,545.6 1200.1,543.4 1201.7,546.6 1203.3,548.0 1204.9,548.6 1206.4,547.0 1208.0,552.4 1210.0,547.0 1212.0,536.5 1214.0,542.6 1216.0,543.4 1217.8,551.9 1219.5,551.4 1221.2,551.3 1223.0,551.5 1224.8,549.9 1226.5,549.9 1228.2,548.5 1230.0,547.6 1231.8,545.7 1233.5,543.7 1235.2,543.9 1237.0,536.5 1238.8,541.4 1240.5,541.9 1242.2,543.1 1244.0,543.0 1245.5,547.7 1247.0,544.6 1248.5,544.6 1250.0,546.3 1251.5,543.3 1253.0,544.8 1254.5,544.2 1256.0,545.3 1257.7,549.7 1259.3,550.5 1261.0,557.5 1262.7,552.5 1264.3,549.5 1266.0,545.6 1267.6,547.1 1269.1,543.5 1270.7,545.8 1272.2,547.1 1273.8,544.4 1275.3,548.1 1276.9,543.2 1278.4,544.6 1280.0,543.2 1281.8,549.4 1283.5,555.1 1285.0,553.8 1286.5,552.4 1288.0,548.9 1289.5,549.5 1291.1,552.6 1292.6,549.4 1294.2,555.4 1295.8,556.3 1297.4,558.4 1298.9,564.2 1300.5,564.0 1302.1,559.4 1303.7,555.9 1305.3,548.7 1306.9,550.5 1308.5,544.7 1310.2,548.5 1312.0,550.7 1313.8,554.4 1315.5,558.5 1317.1,555.9 1318.7,555.6 1320.2,552.2 1321.8,552.6 1323.4,552.3 1325.1,550.2 1326.7,557.8 1328.4,554.8 1330.0,552.3 1331.5,555.6 1333.1,554.9 1334.7,548.5 1336.3,547.1 1337.8,551.9 1339.4,545.2 1341.2,546.6 1342.9,554.0 1344.7,563.4 1346.4,566.1 1348.2,563.0 1349.9,560.6 1351.7,556.4 1353.4,551.4 1355.0,550.9 1356.6,556.0 1358.2,554.9 1359.8,558.3 1361.4,563.0 1363.4,560.6 1365.3,559.4 1367.3,559.1 1369.0,563.2 1370.6,566.6 1372.3,565.8 1374.0,562.6 1375.6,559.6 1377.3,552.3 1378.8,551.2 1380.3,552.8 1381.8,552.0 1383.3,555.7 1385.0,557.1 1386.6,551.5 1388.3,547.5 1390.0,551.5 1391.8,555.8 1393.5,559.3 1395.3,562.4 1397.3,555.7 1399.3,552.1 1400.9,553.4 1402.5,549.6 1404.1,549.5 1405.7,552.2 1407.3,547.5 1408.8,551.5 1410.3,554.4 1411.8,557.8 1413.3,559.5 1414.9,556.3 1416.5,556.1 1418.0,551.4 1419.6,548.2 1421.2,545.6 1422.8,552.5 1424.4,550.4 1426.0,556.4 1427.6,558.9 1429.2,561.4 1430.8,560.4 1432.5,560.4 1434.1,562.1 1435.7,561.7 1437.4,561.1 1439.0,566.1 1440.8,559.7 1442.5,561.6 1444.2,556.6 1446.0,552.2 1447.5,554.0 1449.0,555.6 1450.5,551.4 1452.0,552.4 1454.0,556.2 1456.0,562.3 1457.7,560.4 1459.3,557.4 1461.0,553.8 1462.6,554.3 1464.2,557.4 1465.8,557.5 1467.4,556.0 1469.0,553.8 1470.7,560.7 1472.3,563.8 1474.0,567.4 1475.7,565.3 1477.3,559.1 1479.0,551.3 1480.7,555.4 1482.3,563.3 1484.0,565.3 1485.5,564.0 1487.0,559.8 1488.5,555.9 1490.0,555.6 1491.5,559.5 1493.0,559.2 1494.5,558.4 1496.0,561.6 1497.6,560.9 1499.2,561.6 1500.8,562.7 1502.4,563.9 1504.0,560.5 1505.6,561.6 1507.2,564.7 1508.8,566.8 1510.4,568.2 1512.0,571.2 1513.5,568.9 1515.0,564.7 1516.5,565.3 1518.0,561.5 1519.7,563.2 1521.3,568.3 1523.0,569.3 1524.8,571.6 1526.5,568.0 1528.2,565.8 1530.0,562.9 1531.7,567.1 1533.3,572.9 1535.0,574.0 1536.5,574.3 1538.0,567.2 1539.5,569.0 1541.0,567.9 1542.5,564.9 1544.0,562.1 1546.0,568.8 1548.0,570.7 1549.5,568.7 1551.0,568.8 1552.5,568.9 1554.0,565.9 1555.5,567.3 1557.0,570.6 1558.5,573.4 1560.0,573.0 1561.5,568.6 1563.0,569.9 1564.5,567.3 1566.0,567.1 1567.8,568.1 1569.5,570.7 1571.2,574.9 1573.0,576.3 1574.5,575.6 1576.0,578.0 1577.5,573.9 1579.0,573.5 1580.5,575.8 1582.0,571.3 1583.5,573.1 1585.0,580.9 1586.5,582.0 1588.0,585.2 1589.6,582.6 1591.2,580.5 1592.8,575.6 1594.4,573.6 1596.0,569.3 1598.0,575.4 1600.0,579.6 1601.5,576.4 1603.0,576.3 1604.5,578.2 1606.0,569.2 1607.7,572.1 1609.3,571.8 1611.0,571.5 1612.7,567.8 1614.3,570.7 1616.0,569.3 1617.5,569.0 1619.0,569.6 1620.5,571.6 1622.0,573.8 1623.5,575.0 1625.0,578.6 1626.5,575.4 1628.0,578.3 1629.6,575.7 1631.2,577.0 1632.8,575.1 1634.4,573.0 1636.0,571.0 1637.5,573.5 1639.0,576.7 1640.5,580.3 1642.0,580.6 1643.5,578.7 1645.0,581.4 1646.7,577.6 1648.3,572.7 1650.0,568.3 1651.7,569.5 1653.3,568.5 1655.0,567.0 1656.7,564.9 1658.3,567.5 1660.0,565.3 1661.5,569.6 1663.0,572.2 1664.5,571.2 1666.0,575.0 1667.5,576.4 1669.0,577.7 1670.5,572.8 1672.0,566.3 1673.5,567.7 1675.0,568.9 1676.5,569.1 1678.0,570.0 1679.5,572.9 1681.1,571.6 1682.7,569.8 1684.3,566.0 1685.9,565.9 1687.5,562.2 1689.0,565.3 1690.5,569.9 1692.0,572.1 1693.5,576.2 1695.1,581.5 1696.6,578.5 1698.2,576.6 1699.8,574.9 1701.4,577.5 1702.9,576.9 1704.5,576.1 1706.3,579.2 1708.1,575.4 1709.8,575.1 1711.6,577.8 1713.4,571.2 1714.9,572.5 1716.4,574.4 1717.9,574.8 1719.4,575.4 1721.1,574.1 1722.7,574.1 1724.4,569.3 1726.2,565.5 1727.9,563.7 1729.7,562.0 1731.4,561.8 1733.0,565.6 1734.6,568.6 1736.2,572.8 1737.8,573.5 1739.4,578.3 1741.1,575.7 1742.7,574.7 1744.4,568.7 1746.1,572.3 1747.7,565.9 1749.4,565.0 1751.1,568.6 1752.7,566.9 1754.3,570.9 1756.0,568.5 1757.7,566.9 1759.3,569.2 1761.0,570.3 1762.6,575.6 1764.3,577.7 1766.0,573.6 1767.6,568.9 1769.3,567.1 1770.8,569.3 1772.3,566.6 1773.8,567.1 1775.3,570.4 1776.8,570.7 1778.3,569.6 1779.8,570.0 1781.3,567.7 1782.9,573.2 1784.5,571.2 1786.1,569.2 1787.7,569.9 1789.3,570.5 1790.8,575.6 1792.3,574.7 1793.8,572.0 1795.3,578.1 1796.8,575.3 1798.3,569.2 1799.8,564.5 1801.3,568.6 1803.2,564.6 1805.1,564.1 1807.0,562.1 1808.8,569.6 1810.5,574.5 1812.0,572.4 1813.5,569.7 1815.0,569.4 1816.5,569.1 1818.0,564.3 1819.5,568.1 1821.0,564.5 1822.5,565.8 1824.0,565.9 1825.5,567.5 1827.0,568.2 1828.5,570.4 1830.0,566.4 1831.8,567.8 1833.6,571.9 1835.4,572.9 1836.9,573.5 1838.4,568.7 1839.9,568.3 1841.4,567.6 1842.9,565.8 1844.4,562.4 1846.3,570.1 1848.1,575.6 1850.0,576.2 1851.8,578.4 1853.5,576.9 1855.2,574.8 1857.0,573.0 1858.7,570.8 1860.3,568.0 1862.0,564.5 1863.6,566.8 1865.2,566.5 1866.8,564.3 1868.4,564.4 1870.0,567.5 1871.7,562.5 1873.3,561.7 1875.0,559.9 1876.7,563.8 1878.3,565.9 1880.0,570.5 1881.7,565.5 1883.4,565.5 1885.2,561.4 1886.9,561.1 1888.6,559.1 1890.3,555.5 1891.9,555.1 1893.5,563.7 1895.0,565.2 1896.6,567.3 1898.2,568.4 1899.8,571.5 1901.5,572.8 1903.1,572.1 1904.8,574.0 1906.5,571.1 1908.1,568.3 1909.8,569.6 1911.5,566.3 1913.1,566.6 1914.8,562.0 1916.5,566.5 1918.1,570.0 1919.8,570.0 1921.5,573.0 1923.1,576.1 1924.8,577.2 1926.8,575.1 1928.7,566.6 1930.3,568.3 1931.9,570.0 1933.5,568.5 1935.1,570.8 1936.7,576.0 1938.4,571.8 1940.0,572.1 1941.7,566.9 1943.3,568.2 1944.9,571.6 1946.5,571.7 1948.1,575.4 1949.7,572.2 1951.3,573.0 1952.9,571.6 1954.5,569.6 1956.1,568.8 1957.7,566.8 1959.2,564.6 1960.7,563.1 1962.2,565.2 1963.7,563.2 1965.2,564.2 1966.7,564.4 1968.4,566.4 1970.0,568.6 1971.7,573.7 1973.7,570.8 1975.6,564.4 1977.6,562.1 1979.3,563.5 1980.9,567.0 1982.6,569.1 1984.4,568.2 1986.3,568.5 1988.2,564.3 1990.0,563.0"/>
<polyline stroke="#C078E0" points="255.5,1467.0 257.0,1200.0 259.5,1120.0 261.5,1111.0 263.0,1113.2 264.5,1115.5 266.0,1117.8 267.5,1120.0 269.5,1113.3 271.4,1106.7 273.4,1100.0 274.9,1100.8 276.4,1101.5 277.9,1102.2 279.4,1103.0 280.9,1109.7 282.5,1116.3 284.0,1123.0 286.2,1119.0 288.4,1115.0 290.2,1119.0 291.9,1123.0 293.7,1127.0 296.6,1106.0 298.3,1107.8 299.9,1109.6 301.6,1114.1 303.2,1117.8 304.9,1108.4 306.4,1117.4 307.9,1123.1 309.4,1126.8 310.9,1127.7 312.4,1131.6 313.9,1130.3 315.4,1132.7 316.9,1133.5 318.8,1125.0 320.6,1120.3 322.4,1118.2 324.3,1110.5 325.8,1118.1 327.3,1120.9 328.8,1124.9 330.3,1122.9 331.8,1124.9 333.3,1117.3 334.8,1115.9 336.3,1109.7 337.8,1101.7 339.3,1088.3 340.8,1079.5 342.3,1093.9 343.8,1099.8 345.3,1102.9 346.8,1098.5 348.3,1096.0 349.8,1093.5 352.0,1119.3 353.8,1103.6 355.5,1093.8 357.3,1076.6 358.8,1083.4 360.3,1088.2 361.8,1097.6 363.3,1102.1 364.8,1088.3 366.3,1084.2 368.1,1077.8 370.0,1078.2 371.9,1079.3 373.7,1082.5 375.2,1092.6 376.7,1096.2 378.2,1096.1 379.7,1093.4 381.2,1100.7 382.7,1102.7 384.2,1097.1 385.7,1095.5 387.2,1089.3 388.7,1087.0 390.2,1091.2 391.7,1095.1 393.2,1093.5 394.7,1096.8 396.2,1089.5 397.7,1078.2 399.9,1080.0 402.0,1082.8 404.0,1074.8 406.0,1078.9 408.0,1087.1 409.5,1101.6 411.0,1109.5 412.5,1116.1 414.0,1123.2 416.0,1107.8 418.0,1088.9 420.0,1075.3 422.0,1057.6 424.0,1073.4 426.0,1081.3 428.0,1066.7 430.0,1050.0 432.0,1090.0 431.5,1163.3 433.2,1146.6 435.0,1139.9 436.7,1146.1 438.3,1143.3 440.0,1143.8 441.0,1178.7 442.5,1159.2 444.0,1144.2 445.8,1140.1 447.5,1143.5 449.2,1145.2 451.0,1146.7 453.0,1149.1 455.0,1163.7 457.0,1136.7 459.0,1114.1 460.5,1120.5 462.0,1128.4 463.5,1132.2 465.0,1139.1 466.7,1138.3 468.3,1136.8 470.0,1134.3 471.7,1138.7 473.3,1127.2 475.0,1132.0 476.0,1081.5 477.8,1084.7 479.5,1082.7 481.2,1079.4 483.0,1083.9 485.0,1116.1 486.7,1104.3 488.3,1105.6 490.0,1099.4 491.5,1101.0 493.0,1098.2 494.5,1101.6 496.0,1100.1 497.5,1105.4 499.0,1104.9 500.5,1109.6 502.0,1109.4 503.5,1114.9 505.0,1116.1 506.5,1123.2 508.0,1121.8 510.0,1093.3 512.0,1127.1 514.0,1095.5 516.0,1125.0 518.0,1090.8 520.0,1125.5 522.0,1086.4 524.0,1128.0 525.0,1081.4 527.0,1131.2 529.0,1085.7 531.0,1137.5 533.0,1082.3 534.0,1082.9 536.0,1124.9 538.0,1093.3 540.0,1127.4 542.0,1095.6 543.0,1108.4 545.0,1087.2 547.0,1098.5 549.0,1077.6 551.0,1094.7 553.0,1068.4 555.0,1079.1 556.0,1104.4 558.0,1079.2 560.0,1131.4 562.0,1085.3 564.0,1092.0 565.5,1094.7 567.0,1095.5 568.5,1095.3 570.0,1098.0 571.5,1107.0 573.0,1113.1 574.5,1111.4 576.0,1122.4 577.5,1122.0 579.0,1127.7 580.5,1127.5 582.0,1126.6 583.5,1129.2 585.0,1132.1 586.7,1137.5 588.3,1143.9 590.0,1139.0 592.0,1138.8 594.0,1140.9 595.5,1140.1 597.0,1142.8 598.5,1143.2 600.0,1143.2 601.5,1142.2 603.0,1145.6 604.5,1148.1 606.0,1146.4 607.5,1150.7 609.0,1149.7 610.5,1147.4 612.0,1152.8 613.5,1147.6 615.0,1155.8 616.5,1159.8 618.0,1156.6 619.8,1157.5 621.6,1160.7 623.5,1162.5 625.3,1160.4 626.8,1162.9 628.3,1167.7 629.8,1169.0 631.3,1166.6 632.8,1170.7 634.3,1172.6 635.8,1170.1 637.3,1176.5 638.8,1175.0 640.3,1180.2 641.8,1178.4 643.3,1183.9 644.8,1186.5 646.3,1197.6 647.8,1201.6 649.3,1203.4 650.8,1204.7 652.3,1204.5 653.8,1205.8 655.3,1200.3 656.8,1206.9 658.3,1206.0 659.8,1202.0 661.3,1195.1 662.8,1197.2 664.3,1189.7 666.5,1179.9 668.7,1179.6 670.2,1183.1 671.7,1185.5 673.2,1192.4 674.7,1196.2 676.2,1192.8 677.7,1195.4 679.2,1201.2 680.7,1201.4 682.2,1201.8 683.7,1189.5 685.2,1182.5 686.7,1184.2 688.2,1185.8 689.7,1181.8 691.2,1181.2 692.7,1192.8 694.2,1195.8 695.7,1200.4 697.2,1205.3 698.7,1211.3 700.2,1211.7 701.7,1204.7 703.2,1195.7 704.7,1188.1 706.2,1190.4 707.7,1189.6 709.2,1188.1 710.7,1186.7 712.2,1179.1 714.2,1187.3 716.1,1198.8 718.1,1203.3 719.6,1200.2 721.1,1193.6 722.6,1188.8 724.1,1187.4 725.6,1182.7 727.1,1181.5 728.6,1179.9 730.1,1177.6 731.6,1189.5 733.1,1199.6 734.6,1192.4 736.1,1195.3 737.6,1194.3 739.1,1198.0 740.6,1193.2 742.1,1198.0 743.6,1197.8 745.1,1193.8 746.6,1186.1 748.1,1184.4 749.6,1178.5 751.1,1178.7 752.6,1176.5 754.1,1173.8 755.6,1179.3 757.1,1184.8 758.6,1187.6 760.1,1195.4 761.6,1193.6 763.1,1197.1 764.6,1196.1 766.4,1197.4 768.2,1188.2 769.9,1184.2 771.7,1176.8 773.5,1165.5 775.0,1173.8 776.5,1181.6 778.0,1193.2 779.5,1197.7 781.0,1201.4 782.5,1202.2 784.0,1203.4 785.5,1206.4 787.0,1200.7 788.5,1192.2 790.0,1191.0 791.5,1193.3 793.0,1182.5 794.5,1185.0 796.0,1182.0 797.5,1172.5 799.0,1179.6 800.5,1179.9 802.0,1190.3 803.5,1191.0 805.0,1189.3 806.5,1191.5 808.0,1191.1 809.5,1190.5 811.5,1184.5 813.4,1175.6 815.4,1166.3 816.9,1170.5 818.4,1174.3 819.9,1168.2 821.4,1166.2 822.9,1165.4 824.4,1173.2 825.9,1174.7 827.4,1179.0 828.9,1177.5 830.4,1183.4 831.9,1187.0 833.8,1187.8 835.6,1180.0 837.5,1169.5 839.0,1174.8 840.5,1173.9 842.0,1171.9 843.5,1158.7 845.0,1176.9 846.5,1189.1 848.0,1199.1 849.5,1207.4 851.5,1197.3 853.4,1194.9 855.4,1189.2 856.9,1186.7 858.4,1182.0 859.9,1174.9 861.4,1172.9 862.9,1163.1 864.4,1159.2 865.9,1167.9 867.4,1176.5 868.9,1181.2 870.4,1192.2 871.9,1197.1 873.4,1193.5 874.9,1196.2 876.4,1193.7 877.9,1193.5 879.4,1192.3 880.9,1194.0 882.4,1187.0 883.9,1174.8 885.4,1178.9 886.9,1175.5 888.4,1169.1 889.9,1168.3 891.4,1175.8 892.9,1173.7 894.4,1177.1 895.9,1181.9 897.4,1167.3 898.9,1157.7 900.4,1172.3 901.9,1190.8 903.6,1187.3 905.4,1176.8 907.1,1169.4 908.8,1167.6 910.6,1160.1 912.3,1156.6 913.8,1157.1 915.3,1159.4 916.8,1162.1 918.3,1164.8 919.8,1164.6 921.3,1161.2 922.8,1165.2 924.3,1166.1 925.8,1163.4 927.3,1158.5 928.8,1165.2 930.3,1170.6 931.8,1165.6 933.3,1170.9 934.8,1167.4 936.3,1162.4 937.8,1159.0 939.5,1162.3 941.1,1157.0 942.8,1156.1 944.5,1159.6 946.8,1176.9 948.3,1177.2 949.8,1186.8 951.3,1193.4 952.8,1191.7 954.3,1194.9 956.0,1186.3 957.6,1182.7 959.3,1184.5 961.0,1179.4 962.7,1173.2 964.4,1165.5 966.0,1159.5 967.7,1155.4 969.2,1162.1 970.7,1173.7 972.2,1177.1 973.7,1178.7 975.2,1182.6 976.7,1183.4 978.2,1182.6 979.7,1184.6 981.2,1184.2 982.7,1180.0 984.2,1177.8 985.7,1169.9 987.2,1163.1 988.9,1162.6 990.5,1158.5 992.2,1161.2 993.9,1155.6 995.6,1160.7 997.3,1165.4 999.0,1168.3 1000.7,1174.7 1002.4,1169.6 1004.2,1164.0 1005.9,1155.1 1007.4,1165.1 1008.9,1176.4 1011.1,1158.0 1012.6,1154.9 1014.1,1159.4 1015.6,1160.4 1017.1,1163.4 1018.6,1164.5 1020.3,1166.1 1022.0,1162.1 1023.7,1160.4 1025.4,1152.4 1027.4,1157.9 1029.3,1164.2 1031.3,1174.3 1032.8,1181.8 1034.3,1183.3 1035.8,1194.1 1037.3,1205.6 1039.6,1164.3 1041.1,1165.0 1042.6,1167.4 1044.1,1164.4 1045.6,1158.4 1047.1,1167.7 1048.6,1169.0 1050.1,1171.0 1051.6,1168.8 1053.6,1165.9 1055.5,1164.1 1057.5,1156.3 1059.0,1161.6 1060.5,1163.3 1062.0,1172.4 1063.5,1172.4 1065.0,1179.1 1066.5,1181.2 1068.0,1181.5 1069.5,1176.4 1071.0,1157.7 1072.5,1169.1 1074.0,1181.4 1075.5,1187.3 1077.0,1181.5 1078.5,1181.2 1080.0,1175.6 1081.5,1171.3 1083.0,1167.6 1084.5,1166.5 1086.0,1153.9 1087.5,1164.3 1089.0,1161.6 1090.5,1163.7 1092.0,1159.9 1093.5,1160.7 1095.0,1163.1 1096.5,1161.6 1098.0,1155.8 1099.8,1161.5 1101.6,1165.9 1103.3,1164.8 1105.1,1164.9 1106.9,1169.4 1108.5,1168.7 1110.1,1167.8 1111.7,1166.6 1113.4,1159.8 1115.0,1159.8 1116.6,1156.7 1118.2,1155.0 1120.4,1181.8 1122.2,1185.8 1124.0,1184.7 1125.7,1187.8 1127.5,1191.1 1129.0,1188.1 1130.5,1185.0 1132.0,1182.3 1133.5,1178.0 1135.0,1173.1 1136.7,1168.4 1138.3,1167.1 1140.0,1168.8 1141.7,1159.4 1143.5,1166.3 1145.2,1172.2 1147.0,1177.5 1148.5,1184.3 1150.0,1179.4 1151.5,1178.9 1153.0,1179.4 1154.5,1184.2 1156.0,1182.3 1158.2,1172.1 1160.4,1161.7 1161.9,1158.9 1163.4,1161.2 1164.9,1154.7 1166.4,1163.5 1167.9,1148.7 1169.4,1155.5 1170.9,1162.5 1172.4,1166.6 1173.9,1167.8 1175.4,1172.7 1176.9,1165.4 1178.4,1158.3 1180.2,1168.5 1182.1,1176.6 1184.0,1166.7 1185.9,1157.6 1187.4,1162.1 1188.9,1161.1 1190.4,1164.9 1191.9,1169.3 1193.4,1168.0 1195.4,1166.5 1197.3,1158.6 1199.3,1156.7 1200.8,1160.8 1202.3,1163.6 1203.8,1167.8 1205.3,1173.7 1206.8,1176.7 1208.3,1183.3 1209.8,1193.4 1211.3,1196.2 1212.8,1188.6 1214.3,1180.4 1215.8,1166.0 1217.3,1165.9 1218.8,1164.0 1220.3,1164.6 1221.8,1161.3 1223.3,1159.0 1224.8,1148.3 1226.3,1158.6 1227.8,1164.8 1229.3,1165.6 1230.8,1167.0 1232.3,1174.3 1233.8,1165.0 1235.3,1161.7 1236.8,1159.7 1238.3,1165.6 1239.8,1176.4 1241.3,1169.9 1242.8,1160.8 1244.3,1156.5 1246.2,1159.2 1248.0,1160.7 1249.8,1167.5 1251.7,1166.8 1253.5,1161.5 1255.2,1155.9 1257.0,1155.0 1258.7,1162.7 1260.3,1162.0 1262.0,1168.3 1263.7,1171.0 1265.5,1178.5 1267.2,1187.3 1269.0,1201.2 1270.8,1178.4 1272.7,1167.3 1274.2,1161.5 1275.7,1165.6 1277.2,1161.1 1278.7,1160.6 1280.2,1167.2 1281.7,1165.6 1283.2,1172.0 1284.9,1165.7 1286.7,1162.5 1288.4,1157.7 1290.1,1160.6 1291.8,1164.4 1293.4,1166.8 1295.1,1173.4 1296.6,1168.5 1298.1,1166.7 1299.6,1164.1 1301.1,1157.4 1302.9,1168.0 1304.6,1181.5 1306.4,1190.8 1308.1,1187.1 1309.9,1170.6 1311.6,1170.4 1313.3,1169.2 1315.0,1163.1 1316.7,1161.4 1318.4,1156.0 1320.1,1159.4 1321.9,1165.6 1323.6,1163.6 1325.1,1158.9 1326.6,1163.7 1328.1,1160.5 1329.6,1158.2 1331.2,1161.5 1332.9,1165.1 1334.5,1165.1 1336.2,1170.3 1337.8,1172.7 1339.6,1165.3 1341.3,1164.2 1343.1,1161.6 1344.8,1157.6 1346.4,1161.1 1348.1,1156.4 1349.8,1158.0 1351.7,1170.7 1353.5,1174.1 1355.0,1178.5 1356.5,1187.5 1358.0,1189.5 1359.5,1195.3 1361.0,1194.8 1362.5,1185.5 1364.0,1185.4 1365.5,1178.9 1367.0,1174.3 1368.5,1172.7 1370.0,1167.6 1371.5,1165.3 1373.0,1158.8 1374.5,1165.2 1376.0,1169.3 1377.5,1168.6 1379.0,1177.1 1380.6,1178.6 1382.3,1183.1 1383.9,1179.5 1385.6,1184.1 1387.2,1183.9 1388.9,1174.0 1390.7,1171.9 1392.4,1167.7 1393.9,1163.1 1395.4,1164.4 1396.9,1161.0 1398.4,1158.8 1399.9,1154.7 1401.4,1159.6 1402.9,1165.2 1404.4,1168.1 1405.9,1168.8 1408.0,1165.6 1410.0,1161.0 1411.5,1170.9 1413.0,1178.2 1414.5,1168.1 1416.0,1167.1 1417.5,1155.8 1419.0,1159.7 1420.5,1160.7 1422.0,1168.2 1423.5,1167.4 1425.0,1167.8 1426.7,1161.7 1428.5,1162.9 1430.2,1155.4 1431.9,1160.5 1433.6,1165.4 1435.3,1165.0 1437.0,1170.4 1438.7,1174.2 1440.5,1191.2 1442.2,1195.6 1444.1,1184.6 1446.0,1167.8 1447.7,1166.3 1449.5,1169.0 1451.2,1154.6 1452.9,1165.9 1454.7,1167.3 1456.4,1174.0 1458.1,1168.9 1459.8,1164.3 1461.4,1158.7 1463.1,1154.2 1464.9,1162.3 1466.6,1162.8 1468.4,1174.8 1469.9,1173.8 1471.4,1179.7 1472.9,1178.7 1474.4,1186.3 1476.1,1172.1 1477.9,1162.4 1479.6,1151.2 1481.2,1149.7 1482.9,1154.3 1484.5,1157.7 1486.2,1163.8 1487.8,1159.7 1489.3,1166.1 1490.8,1166.0 1492.3,1164.5 1493.8,1168.2 1495.3,1168.8 1496.8,1175.0 1498.3,1165.9 1499.8,1167.2 1501.3,1159.6 1502.8,1158.9 1504.3,1156.4 1505.8,1162.6 1507.3,1168.8 1508.8,1169.7 1510.3,1171.3 1511.8,1178.6 1513.3,1183.9 1514.8,1185.1 1516.3,1175.3 1517.8,1167.7 1519.3,1156.2 1520.8,1150.5 1522.3,1154.0 1523.8,1150.8 1525.3,1159.8 1526.8,1161.9 1528.3,1154.9 1529.8,1149.9 1531.7,1152.1 1533.5,1153.6 1535.3,1153.1 1537.2,1148.5 1538.7,1159.6 1540.2,1158.8 1541.7,1172.5 1543.2,1179.0 1544.7,1186.7 1546.2,1177.5 1547.7,1179.2 1549.2,1174.5 1550.7,1167.4 1552.2,1158.8 1553.7,1159.0 1555.2,1154.8 1556.7,1151.7 1558.2,1152.7 1559.7,1159.4 1561.2,1148.3 1562.7,1155.4 1564.2,1161.0 1565.7,1167.1 1567.2,1166.3 1568.7,1170.5 1570.2,1168.4 1571.7,1159.7 1573.2,1155.2 1574.7,1156.0 1576.2,1165.7 1577.7,1175.4 1579.4,1169.3 1581.1,1162.1 1582.8,1161.3 1584.5,1152.1 1586.2,1151.0 1587.9,1151.0 1589.6,1147.3 1591.1,1147.4 1592.6,1149.6 1594.1,1145.3 1595.6,1148.9 1597.1,1154.7 1598.6,1160.9 1600.1,1159.1 1601.6,1158.6 1603.1,1161.5 1604.6,1170.1 1606.1,1167.3 1607.6,1158.8 1609.1,1159.8 1610.6,1160.6 1612.1,1163.9 1613.6,1162.1 1615.1,1166.3 1616.6,1171.2 1618.1,1168.3 1619.6,1168.1 1621.1,1171.8 1622.6,1177.9 1624.1,1178.8 1625.6,1168.2 1627.1,1154.9 1628.9,1154.7 1630.7,1158.8 1632.4,1163.4 1634.2,1167.8 1636.0,1164.6 1637.5,1164.6 1639.0,1157.2 1640.5,1153.9 1642.0,1156.8 1643.5,1157.5 1645.0,1161.6 1646.5,1162.1 1648.0,1173.9 1649.5,1174.1 1651.0,1185.8 1652.5,1188.8 1654.0,1198.7 1655.5,1196.6 1657.0,1187.3 1658.5,1180.5 1660.0,1176.0 1661.5,1168.5 1663.0,1164.3 1664.7,1160.5 1666.5,1171.5 1668.2,1171.9 1670.0,1163.7 1671.7,1162.6 1673.5,1157.1 1675.3,1159.5 1677.1,1165.5 1678.8,1163.7 1680.6,1166.6 1682.4,1173.2 1683.9,1180.2 1685.4,1181.5 1686.9,1182.8 1688.4,1183.8 1689.9,1188.1 1691.4,1193.8 1692.9,1184.1 1694.4,1178.8 1695.9,1176.2 1697.4,1171.5 1698.9,1166.7 1700.4,1166.6 1701.9,1159.9 1703.4,1153.3 1705.2,1152.9 1707.0,1164.4 1708.7,1163.7 1710.5,1167.8 1712.0,1165.1 1713.5,1164.4 1715.0,1160.7 1716.5,1163.3 1718.0,1164.3 1719.5,1165.8 1721.0,1169.9 1722.5,1169.9 1724.5,1169.3 1726.4,1167.5 1728.4,1162.9 1729.9,1160.2 1731.4,1156.3 1732.9,1155.0 1734.4,1154.2 1735.9,1166.0 1737.4,1179.2 1738.9,1183.3 1740.4,1187.5 1741.9,1192.7 1743.4,1191.5 1744.9,1190.2 1746.4,1188.9 1747.9,1186.4 1749.4,1179.3 1750.9,1175.4 1752.4,1176.3 1753.9,1171.3 1755.4,1166.9 1756.9,1161.1 1758.4,1155.6 1759.9,1165.0 1761.4,1172.8 1762.9,1180.3 1764.4,1182.3 1765.9,1181.3 1767.4,1185.3 1768.9,1182.2 1770.4,1184.9 1771.9,1185.2 1773.9,1173.4 1775.8,1167.7 1777.8,1162.7 1779.3,1162.4 1780.8,1160.9 1782.3,1161.3 1783.8,1156.0 1785.3,1158.4 1786.8,1163.2 1788.3,1162.5 1789.8,1168.3 1791.3,1169.4 1792.8,1168.6 1794.3,1163.2 1795.8,1160.4 1797.3,1162.9 1798.8,1178.8 1800.3,1178.7 1801.8,1169.0 1803.3,1164.3 1804.8,1158.9 1806.3,1160.2 1807.8,1155.0 1809.3,1159.0 1810.8,1156.6 1812.3,1153.9 1813.8,1152.0 1815.3,1153.6 1816.8,1157.7 1818.3,1161.4 1819.8,1160.1 1821.3,1167.0 1822.8,1170.7 1824.5,1185.7 1826.3,1190.9 1828.0,1202.3 1829.8,1181.1 1831.7,1165.9 1833.2,1162.4 1834.7,1160.5 1836.2,1162.2 1837.7,1163.1 1839.2,1170.2 1840.7,1169.1 1842.2,1173.1 1843.7,1164.8 1845.2,1161.4 1846.7,1161.7 1848.2,1154.2 1849.7,1163.4 1851.2,1162.1 1852.7,1166.1 1854.2,1177.5 1855.7,1172.3 1857.2,1179.5 1858.7,1186.3 1860.4,1177.3 1862.1,1163.5 1863.7,1162.8 1865.4,1146.8 1867.1,1146.8 1868.8,1157.8 1870.5,1158.0 1872.2,1163.2 1873.9,1166.5 1875.7,1163.7 1877.4,1165.6 1879.1,1168.7 1880.9,1172.7 1882.6,1168.6 1884.1,1171.7 1885.6,1164.9 1887.1,1157.1 1888.6,1156.1 1890.1,1162.1 1891.6,1168.5 1893.1,1172.2 1894.6,1176.7 1896.1,1177.1 1897.6,1183.1 1899.1,1178.1 1900.8,1178.4 1902.4,1166.4 1904.1,1161.4 1905.8,1146.5 1907.5,1149.3 1909.2,1153.1 1910.9,1157.6 1912.6,1158.9 1914.1,1157.4 1915.6,1151.5 1917.1,1150.7 1918.6,1155.9 1920.1,1152.4 1921.6,1151.4 1923.1,1146.6 1924.6,1152.7 1926.8,1170.3 1929.0,1183.6 1930.5,1182.7 1932.0,1170.4 1933.5,1170.3 1935.0,1165.6 1936.5,1165.4 1938.0,1157.9 1939.5,1156.5 1941.0,1161.9 1942.5,1153.3 1944.0,1157.4 1945.5,1157.9 1947.0,1153.3 1948.5,1155.5 1950.0,1161.1 1951.5,1163.9 1953.0,1167.2 1954.5,1173.6 1956.0,1165.9 1957.5,1167.1 1959.0,1155.4 1960.5,1159.2 1962.0,1166.8 1963.5,1176.4 1965.1,1171.2 1966.7,1164.5 1968.3,1158.5 1969.9,1161.2 1971.5,1152.8 1973.1,1149.6 1974.7,1148.6 1976.3,1147.4 1978.0,1152.0 1979.6,1149.7 1981.3,1152.8 1982.9,1153.6 1984.7,1161.8 1986.5,1154.8 1988.2,1160.3 1990.0,1163.0"/>
<polyline stroke="#00CDD0" points="255.5,1467.0 256.0,1100.0 256.5,880.0 257.5,809.0 259.5,880.0 261.0,940.0 262.5,951.0 264.0,962.0 265.7,963.3 267.3,964.7 269.0,966.0 270.7,967.3 272.4,968.6 274.0,970.0 275.7,971.3 277.4,972.6 279.1,970.1 280.8,967.6 282.4,965.0 284.1,962.5 285.8,960.0 287.5,957.9 289.2,955.8 290.8,953.7 292.5,951.6 294.2,949.5 295.8,947.4 297.4,945.2 298.9,943.1 300.5,941.0 302.1,943.1 303.6,943.8 305.2,944.4 306.8,946.7 308.4,944.7 309.9,945.3 311.4,946.2 313.0,942.2 315.2,934.7 317.4,929.2 318.9,897.3 320.5,865.2 322.6,821.5 324.2,804.1 325.8,786.4 327.5,781.9 329.2,782.0 330.8,778.5 332.5,778.2 334.2,776.1 335.8,779.6 337.4,779.0 338.9,782.4 340.5,783.3 342.2,781.5 343.9,776.6 345.6,778.5 347.3,778.1 349.0,777.2 350.6,779.3 352.1,785.6 353.7,789.5 355.3,794.5 357.0,795.4 358.7,790.3 360.3,789.4 362.0,788.8 363.7,784.4 365.2,787.8 366.7,790.9 368.2,793.5 369.7,794.1 371.2,798.9 372.7,803.7 374.2,801.7 375.8,802.7 377.4,798.6 378.9,794.5 380.5,795.8 382.2,797.6 383.9,798.3 385.6,804.1 387.3,808.7 389.0,811.3 390.5,810.4 392.0,807.0 393.5,805.9 395.0,804.9 396.5,799.2 398.0,798.4 399.5,795.1 401.1,799.3 402.6,800.5 404.2,804.7 405.8,808.6 407.3,813.6 408.9,817.3 410.4,816.6 412.0,820.7 413.6,819.6 415.2,812.0 416.8,811.1 418.4,808.2 420.0,812.2 421.6,813.0 423.3,813.1 424.9,814.8 426.5,816.8 428.1,821.4 429.8,820.0 431.4,822.0 433.0,824.8 434.5,820.4 436.0,816.7 437.5,811.7 439.0,809.9 440.5,805.6 442.0,811.7 443.5,814.5 445.0,817.0 446.5,821.7 448.0,823.7 450.0,819.6 452.0,811.6 453.7,814.0 455.4,812.5 457.1,816.6 458.8,814.8 460.5,815.7 462.6,813.2 464.7,807.0 466.2,810.8 467.7,816.2 469.2,813.4 470.8,815.9 472.3,819.3 473.8,821.9 475.3,822.9 476.9,822.2 478.5,823.0 480.1,822.1 481.6,818.9 483.2,819.8 484.8,819.4 486.4,817.0 488.0,818.4 489.7,814.7 491.3,815.7 493.0,812.5 494.6,810.5 496.3,807.5 498.4,816.7 500.5,822.1 502.0,823.8 503.5,826.5 505.0,822.8 506.5,827.9 508.0,824.0 509.5,828.3 511.0,826.0 512.5,828.9 514.0,828.2 515.5,825.8 517.1,830.6 518.6,831.2 520.1,829.1 521.6,829.1 523.2,832.1 524.8,833.7 526.4,839.9 528.0,840.1 529.7,839.7 531.3,837.2 533.0,836.2 534.6,833.9 536.3,836.7 538.0,836.6 539.7,840.5 541.3,841.1 543.0,842.1 544.7,844.8 546.2,844.6 547.7,845.6 549.2,845.2 550.7,845.5 552.2,843.9 553.7,845.0 555.3,847.9 556.9,843.1 558.5,841.5 560.0,842.6 561.6,843.3 563.2,837.7 564.9,838.4 566.6,836.5 568.2,833.4 569.9,836.1 571.6,833.7 573.3,831.5 575.0,827.9 576.6,827.5 578.3,823.6 580.0,821.9 581.6,823.2 583.1,826.0 584.7,832.9 586.3,832.9 588.0,835.0 589.7,835.3 591.3,835.5 593.0,836.2 594.7,838.9 596.5,832.5 598.2,827.9 600.0,823.2 601.6,825.9 603.2,826.0 604.8,826.4 606.3,825.8 607.9,825.3 609.5,829.9 611.3,827.0 613.1,822.4 615.0,820.6 616.8,818.1 618.6,820.8 620.5,823.6 622.4,824.0 624.2,829.8 625.7,823.1 627.2,824.3 628.7,821.4 630.2,819.8 631.7,819.1 633.2,816.2 634.7,809.8 636.3,812.3 637.9,819.8 639.4,820.3 641.0,825.3 642.7,830.0 644.4,829.4 646.1,832.0 647.8,839.2 649.5,842.2 651.1,838.0 652.6,834.8 654.2,829.7 655.8,825.0 657.5,833.4 659.3,838.4 661.0,843.7 662.9,843.7 664.7,839.4 666.5,836.7 668.4,831.0 670.1,832.2 671.8,832.3 673.4,833.1 675.1,835.5 676.8,834.5 678.4,837.8 680.0,839.1 681.5,843.2 683.1,839.2 684.7,844.2 686.3,844.1 688.1,839.3 689.8,832.1 691.6,828.8 693.3,833.4 695.0,834.8 696.6,837.8 698.3,840.0 700.0,845.0 701.5,840.0 703.0,833.3 704.5,832.6 706.0,827.4 707.5,822.1 709.0,823.3 710.5,823.1 712.0,821.7 713.5,820.4 715.0,821.3 716.5,825.3 718.0,824.3 719.5,824.8 721.0,825.2 722.7,828.5 724.4,832.9 726.1,835.6 727.8,838.2 729.5,839.3 731.3,836.8 733.1,829.9 735.0,827.8 736.8,819.0 738.5,823.2 740.1,825.8 741.8,826.1 743.4,833.4 745.1,835.4 746.7,834.7 748.4,839.1 749.9,840.0 751.4,836.7 752.9,842.8 754.5,843.8 756.0,845.5 757.5,845.2 759.0,848.0 760.7,850.2 762.4,854.5 764.0,855.3 765.7,856.9 767.4,861.4 769.0,859.2 770.5,860.5 772.1,859.2 773.7,865.7 775.3,865.8 776.9,866.8 778.4,867.4 780.0,867.6 781.6,866.4 783.1,864.3 784.7,863.1 786.3,862.2 787.9,863.2 789.5,860.3 791.0,858.0 792.6,855.9 794.3,854.3 796.0,856.4 797.6,853.2 799.3,851.1 801.0,848.9 802.5,848.2 804.0,850.3 805.5,852.2 807.1,850.6 808.6,851.4 810.1,851.8 811.6,852.8 813.3,847.1 815.0,846.3 816.6,842.4 818.3,842.3 820.0,836.7 821.6,840.9 823.1,844.5 824.7,843.7 826.3,845.3 828.1,845.6 830.0,844.2 832.1,851.0 834.2,861.7 835.8,862.1 837.4,856.4 838.9,854.4 840.5,850.9 842.2,856.1 843.9,856.5 845.6,859.7 847.3,866.5 849.0,866.0 850.7,868.7 852.4,869.0 854.0,866.6 855.7,866.6 857.4,868.4 859.1,869.0 860.8,872.4 862.4,875.1 864.1,881.4 865.8,887.7 867.3,883.7 868.8,877.5 870.3,874.5 871.8,871.9 873.3,870.0 874.8,866.0 876.3,863.5 878.1,869.2 880.0,873.8 881.9,879.7 883.7,885.6 885.5,881.7 887.4,879.3 889.2,878.0 891.0,872.5 892.7,870.0 894.4,865.5 896.1,867.2 897.8,861.8 899.5,860.9 901.2,866.9 902.9,868.9 904.5,869.9 906.2,869.7 907.9,874.1 909.6,871.7 911.3,872.0 912.9,872.7 914.6,867.5 916.3,864.1 917.9,861.3 919.5,861.0 921.0,858.6 922.6,855.0 924.1,855.6 925.6,852.3 927.1,854.6 928.7,853.1 930.2,851.8 931.7,848.0 933.2,848.2 934.8,851.4 936.4,855.2 937.9,859.5 939.5,862.1 941.2,860.6 942.9,863.0 944.5,860.1 946.2,859.5 947.9,859.5 949.6,855.3 951.3,857.1 952.9,858.8 954.6,859.4 956.3,858.4 958.0,862.3 959.7,862.7 961.3,862.1 963.0,864.2 964.7,868.7 966.4,869.4 968.1,866.9 969.8,873.3 971.5,873.4 973.2,875.8 974.8,872.6 976.4,872.2 977.9,870.3 979.5,875.7 981.1,870.8 982.6,873.1 984.2,869.0 985.8,869.8 987.5,870.0 989.2,875.2 990.8,880.6 992.5,880.1 994.2,887.0 995.8,883.7 997.4,879.4 998.9,878.1 1000.5,876.1 1002.2,876.7 1003.9,875.9 1005.6,875.5 1007.3,876.3 1009.0,875.2 1010.6,872.9 1012.1,873.1 1013.7,872.7 1015.3,867.1 1017.0,873.7 1018.8,876.9 1020.5,880.5 1022.4,878.7 1024.2,871.8 1026.1,870.3 1027.9,862.0 1029.5,861.2 1031.1,857.6 1032.7,854.1 1034.2,853.6 1035.8,849.8 1037.4,848.4 1039.1,852.2 1040.9,855.5 1042.6,861.9 1044.3,860.7 1046.0,860.7 1047.6,856.2 1049.3,856.1 1051.0,851.9 1052.8,859.6 1054.5,860.7 1056.3,863.4 1058.2,859.9 1060.0,855.4 1061.8,844.9 1063.7,839.3 1065.3,844.8 1066.8,849.2 1068.4,856.6 1070.0,859.7 1071.7,858.6 1073.4,859.4 1075.0,856.0 1076.7,856.7 1078.4,853.1 1080.0,855.7 1081.6,857.6 1083.1,866.4 1084.7,865.8 1086.4,865.2 1088.1,863.3 1089.8,862.2 1091.5,860.5 1093.2,862.1 1094.9,855.6 1096.6,853.1 1098.2,852.3 1099.9,850.1 1101.6,851.7 1103.3,855.2 1105.0,855.7 1106.6,858.4 1108.3,863.5 1110.0,869.6 1111.7,859.9 1113.4,862.3 1115.0,856.8 1116.7,857.2 1118.4,850.9 1120.2,849.8 1122.0,845.6 1123.5,843.6 1125.0,844.5 1126.5,840.7 1128.0,835.9 1129.5,832.3 1131.1,830.0 1132.7,831.7 1134.2,831.6 1135.8,830.8 1137.4,830.0 1139.0,827.7 1140.6,832.2 1142.1,835.0 1143.7,840.0 1145.3,843.7 1146.8,843.3 1148.4,845.1 1150.0,845.7 1151.6,844.3 1153.1,843.5 1154.7,844.1 1156.5,837.3 1158.4,834.7 1160.2,828.3 1162.1,823.6 1163.8,821.2 1165.5,818.6 1167.1,816.6 1168.8,816.0 1170.5,813.8 1172.2,812.6 1173.9,809.7 1175.6,805.0 1177.3,804.7 1179.0,800.0 1180.5,800.2 1182.0,799.8 1183.5,796.1 1185.0,798.6 1186.5,797.8 1188.0,796.4 1189.5,795.1 1191.0,796.7 1192.5,797.2 1194.0,799.9 1195.5,800.9 1197.0,803.4 1198.5,802.9 1200.0,806.7 1201.6,806.9 1203.3,806.8 1204.9,806.7 1206.5,808.6 1208.2,805.4 1209.8,809.2 1211.4,809.2 1213.1,809.6 1214.7,810.1 1216.3,806.1 1217.8,804.3 1219.4,803.4 1221.0,800.7 1222.7,801.2 1224.4,799.3 1226.1,803.4 1227.8,805.2 1229.5,805.8 1231.2,800.4 1233.0,793.3 1234.7,793.1 1236.5,790.8 1238.4,786.5 1240.2,790.6 1242.1,787.1 1243.9,793.4 1245.6,800.4 1247.4,809.4 1249.2,800.0 1251.1,794.1 1252.9,789.6 1254.7,782.6 1256.4,781.3 1258.1,782.6 1259.8,782.4 1261.5,784.8 1263.2,788.1 1264.9,789.7 1266.6,790.9 1268.2,794.0 1269.9,792.9 1271.6,795.7 1273.1,796.4 1274.6,795.5 1276.1,795.7 1277.6,794.0 1279.1,792.3 1280.6,792.8 1282.1,790.0 1283.8,791.9 1285.5,798.4 1287.1,800.3 1288.8,803.9 1290.5,803.6 1291.6,818.4 1293.4,818.5 1295.2,818.6 1297.1,816.9 1298.9,820.5 1300.8,826.7 1302.6,830.1 1304.5,832.7 1306.3,837.9 1308.1,834.5 1309.8,824.3 1311.6,824.0 1313.3,826.5 1315.0,828.3 1316.6,831.4 1318.3,831.9 1320.0,832.1 1321.5,832.4 1323.0,833.5 1324.5,831.6 1326.0,832.7 1327.5,834.5 1329.0,836.5 1330.5,833.4 1332.3,830.5 1334.0,827.7 1335.8,826.3 1337.3,833.7 1338.9,845.6 1340.4,839.7 1341.9,839.0 1343.4,837.0 1345.0,836.6 1346.5,835.1 1348.0,829.0 1349.5,828.0 1351.1,832.4 1352.7,833.2 1354.2,834.2 1355.8,840.6 1357.4,842.1 1358.9,844.5 1360.5,845.3 1362.1,850.0 1363.8,844.2 1365.5,842.6 1367.1,835.6 1368.8,831.9 1370.5,829.8 1372.1,830.7 1373.7,835.3 1375.3,837.0 1376.8,837.5 1378.4,841.4 1380.0,843.1 1381.6,847.5 1383.2,847.4 1384.8,846.6 1386.3,848.2 1387.9,848.8 1389.5,847.4 1391.1,838.5 1392.7,833.0 1394.2,829.3 1395.8,820.8 1397.3,820.1 1398.8,822.4 1400.3,823.6 1401.8,822.1 1403.3,821.4 1404.8,822.4 1406.3,826.4 1408.0,825.3 1409.7,827.6 1411.3,829.4 1413.0,831.3 1414.7,831.1 1416.6,831.3 1418.4,828.1 1420.2,827.1 1422.1,824.2 1424.0,825.8 1425.8,822.1 1427.5,824.8 1429.3,829.3 1431.0,833.3 1432.6,831.1 1434.2,823.7 1435.8,820.9 1437.4,818.3 1439.2,828.5 1441.1,831.5 1442.9,835.3 1444.7,842.1 1446.3,841.5 1447.9,835.0 1449.5,832.0 1451.0,831.7 1452.6,827.8 1454.2,825.3 1455.8,823.9 1457.4,828.3 1459.0,828.5 1460.5,827.2 1462.1,828.0 1463.7,824.2 1465.3,830.9 1466.9,832.0 1468.5,835.4 1470.0,838.3 1471.6,839.1 1473.2,839.4 1474.8,843.0 1476.5,841.6 1478.1,842.6 1479.7,842.6 1481.4,843.3 1483.0,840.5 1484.6,846.5 1486.3,845.3 1487.9,847.1 1489.8,845.0 1491.6,838.5 1493.5,832.1 1495.3,830.2 1497.0,832.8 1498.8,837.1 1500.5,841.1 1502.1,835.7 1503.7,837.3 1505.2,832.3 1506.8,833.1 1508.5,834.5 1510.2,836.3 1511.9,838.8 1513.6,840.2 1515.3,842.2 1517.0,841.5 1518.7,845.2 1520.3,849.3 1522.0,850.5 1523.7,850.5 1525.3,846.9 1526.8,842.1 1528.4,842.8 1530.0,837.8 1531.7,840.3 1533.4,842.5 1535.0,845.6 1536.7,847.3 1538.4,850.4 1540.1,847.9 1541.8,848.2 1543.4,851.6 1545.1,847.0 1546.8,845.9 1548.5,846.3 1550.2,845.8 1551.9,842.0 1553.6,842.6 1555.3,843.6 1557.0,838.3 1558.7,833.9 1560.3,831.9 1562.0,824.1 1563.7,821.1 1565.2,821.4 1566.7,825.8 1568.2,821.5 1569.7,824.8 1571.2,826.2 1572.7,829.3 1574.2,830.5 1576.0,838.3 1577.9,840.1 1579.8,850.4 1581.6,855.3 1583.1,851.0 1584.6,849.1 1586.1,843.1 1587.6,837.4 1589.1,836.4 1590.6,830.9 1592.1,828.5 1593.7,832.9 1595.3,835.6 1596.8,840.4 1598.4,840.4 1600.0,841.0 1601.6,845.1 1603.1,843.0 1604.6,840.8 1606.1,841.6 1607.6,838.1 1609.1,834.1 1610.6,836.6 1612.1,833.5 1613.6,834.6 1615.1,834.5 1616.6,835.6 1618.1,835.0 1619.6,837.2 1621.1,836.2 1622.6,836.4 1624.3,838.8 1626.0,838.1 1627.6,842.5 1629.3,844.7 1631.0,847.7 1632.8,840.3 1634.5,840.1 1636.3,832.8 1638.1,839.1 1639.8,846.7 1641.6,857.4 1643.2,856.0 1644.8,853.3 1646.3,852.9 1647.9,850.0 1649.5,850.2 1651.0,846.5 1652.6,845.9 1654.2,845.8 1655.7,850.4 1657.2,846.8 1658.7,849.8 1660.2,851.3 1661.7,856.0 1663.2,855.0 1664.7,858.2 1666.3,862.9 1667.8,865.3 1669.4,869.2 1671.0,873.9 1672.6,868.5 1674.2,866.6 1675.8,865.4 1677.4,863.4 1679.1,867.9 1680.8,870.4 1682.4,877.6 1684.1,884.6 1685.8,889.3 1687.5,886.2 1689.2,882.8 1690.8,883.1 1692.5,879.1 1694.2,876.0 1695.9,873.7 1697.6,874.3 1699.2,869.4 1700.9,868.0 1702.6,862.4 1704.4,864.2 1706.3,861.1 1707.9,862.0 1709.6,866.3 1711.2,863.7 1712.8,861.8 1714.5,862.6 1716.1,863.4 1717.7,864.9 1719.4,862.3 1721.0,860.4 1722.6,866.4 1724.2,870.6 1725.8,874.4 1727.4,880.0 1729.2,888.7 1731.1,899.8 1732.9,907.0 1734.7,920.4 1736.5,911.5 1738.2,898.4 1740.0,886.7 1742.1,878.1 1744.2,872.4 1745.8,870.1 1747.3,873.5 1748.9,876.5 1750.5,879.1 1752.1,872.2 1753.7,868.4 1755.2,862.5 1756.8,858.1 1758.5,857.9 1760.2,856.5 1761.9,858.5 1763.6,860.2 1765.3,857.5 1766.9,856.0 1768.4,854.8 1770.0,849.4 1771.6,848.8 1773.1,844.1 1774.7,845.0 1776.5,849.3 1778.2,851.3 1780.0,850.1 1781.6,857.7 1783.2,862.8 1784.7,868.8 1786.3,877.2 1787.9,868.4 1789.4,868.0 1791.0,862.0 1792.6,860.2 1794.1,859.9 1795.6,860.1 1797.1,863.3 1798.7,865.7 1800.2,866.2 1801.7,868.6 1803.2,868.7 1804.8,861.3 1806.3,861.4 1807.9,856.4 1809.5,850.7 1811.2,854.8 1812.9,860.6 1814.5,862.4 1816.2,866.2 1817.9,871.3 1819.4,875.0 1820.9,872.4 1822.4,878.0 1823.9,876.6 1825.4,877.3 1826.9,882.6 1828.4,881.9 1829.9,878.2 1831.4,877.9 1832.9,878.2 1834.4,876.8 1835.9,872.4 1837.4,872.0 1838.9,870.6 1840.6,864.7 1842.3,862.5 1844.0,858.0 1845.7,853.4 1847.4,849.7 1849.0,845.4 1850.6,840.0 1852.1,833.8 1853.7,828.8 1855.3,840.2 1856.8,847.7 1858.4,857.8 1860.0,867.2 1861.6,871.5 1863.2,879.4 1864.7,879.7 1866.3,887.6 1868.0,888.7 1869.7,895.1 1871.3,897.8 1873.0,894.9 1874.7,899.4 1876.4,897.9 1878.1,893.9 1879.8,889.6 1881.5,884.1 1883.2,880.7 1884.8,888.4 1886.3,894.6 1887.9,903.8 1889.5,905.9 1891.1,903.7 1892.7,894.1 1894.2,890.5 1895.8,881.7 1897.5,884.9 1899.2,891.1 1900.8,893.3 1902.5,897.5 1904.2,900.7 1905.7,904.7 1907.2,907.0 1908.7,909.3 1910.2,909.0 1911.7,912.4 1913.2,912.2 1914.7,913.6 1916.8,919.9 1918.9,925.9 1921.1,918.4 1923.2,913.3 1924.9,914.7 1926.6,916.4 1928.2,916.0 1929.9,920.4 1931.6,919.4 1933.2,928.1 1934.8,933.4 1936.3,942.7 1937.9,950.1 1939.6,950.1 1941.3,955.3 1942.9,953.9 1944.6,957.4 1946.3,957.3 1947.9,953.2 1949.4,952.0 1951.0,951.8 1952.6,949.6 1954.7,939.0 1956.8,927.9 1958.6,935.3 1960.3,947.7 1962.1,954.4 1963.9,952.2 1965.6,944.1 1967.4,937.9 1969.0,941.3 1970.6,944.7 1972.1,944.6 1973.7,946.7 1975.3,946.2 1976.8,943.1 1978.4,943.2 1980.0,945.7 1981.7,941.5 1983.3,944.2 1985.0,941.0 1986.7,943.7 1988.3,942.7 1990.0,943.2"/>
</g>
<text class="yl" transform="translate(0,1490.9) scale(0.92,1)"><tspan x="113.0">0</tspan><tspan x="146.2">.</tspan><tspan x="177.2">0</tspan><tspan x="212.0">0</tspan></text>
<text class="yl" transform="translate(0,1372.2) scale(0.92,1)"><tspan x="113.0">0</tspan><tspan x="146.2">.</tspan><tspan x="177.2">0</tspan><tspan x="212.0">5</tspan></text>
<text class="yl" transform="translate(0,1253.5) scale(0.92,1)"><tspan x="113.0">0</tspan><tspan x="146.2">.</tspan><tspan x="177.2">1</tspan><tspan x="212.0">0</tspan></text>
<text class="yl" transform="translate(0,1134.8) scale(0.92,1)"><tspan x="113.0">0</tspan><tspan x="146.2">.</tspan><tspan x="177.2">1</tspan><tspan x="212.0">5</tspan></text>
<text class="yl" transform="translate(0,1016.1) scale(0.92,1)"><tspan x="113.0">0</tspan><tspan x="146.2">.</tspan><tspan x="177.2">2</tspan><tspan x="212.0">0</tspan></text>
<text class="yl" transform="translate(0,897.4) scale(0.92,1)"><tspan x="113.0">0</tspan><tspan x="146.2">.</tspan><tspan x="177.2">2</tspan><tspan x="212.0">5</tspan></text>
<text class="yl" transform="translate(0,778.7) scale(0.92,1)"><tspan x="113.0">0</tspan><tspan x="146.2">.</tspan><tspan x="177.2">3</tspan><tspan x="212.0">0</tspan></text>
<text class="yl" transform="translate(0,660.0) scale(0.92,1)"><tspan x="113.0">0</tspan><tspan x="146.2">.</tspan><tspan x="177.2">3</tspan><tspan x="212.0">5</tspan></text>
<text class="yl" transform="translate(0,541.3) scale(0.92,1)"><tspan x="113.0">0</tspan><tspan x="146.2">.</tspan><tspan x="177.2">4</tspan><tspan x="212.0">0</tspan></text>
<text class="yl" transform="translate(0,422.6) scale(0.92,1)"><tspan x="113.0">0</tspan><tspan x="146.2">.</tspan><tspan x="177.2">4</tspan><tspan x="212.0">5</tspan></text>
<text class="yl" transform="translate(0,303.9) scale(0.92,1)"><tspan x="113.0">0</tspan><tspan x="146.2">.</tspan><tspan x="177.2">5</tspan><tspan x="212.0">0</tspan></text>
<text class="yl" transform="translate(0,185.2) scale(0.92,1)"><tspan x="113.0">0</tspan><tspan x="146.2">.</tspan><tspan x="177.2">5</tspan><tspan x="212.0">5</tspan></text>
<text class="yl" transform="translate(0,66.5) scale(0.92,1)"><tspan x="113.0">0</tspan><tspan x="146.2">.</tspan><tspan x="177.2">6</tspan><tspan x="212.0">0</tspan></text>
<text x="252.3" y="1545" text-anchor="middle" class="xl">0</text>
<text x="638.5" y="1545" text-anchor="middle" class="xl">10</text>
<text x="1024.6" y="1545" text-anchor="middle" class="xl">20</text>
<text x="1410.8" y="1545" text-anchor="middle" class="xl">30</text>
<text x="1797.0" y="1545" text-anchor="middle" class="xl">40</text>
<text y="1631" class="xt"><tspan x="831">Wear Time</tspan><tspan x="1229">min</tspan></text>
<text transform="translate(1118.6,1627.5) scale(1.75,1)" class="cjkp" style="font-size:61px">（</text>
<text transform="translate(1346.9,1627.5) scale(1.75,1)" class="cjkp" style="font-size:61px">）</text>
<text transform="translate(74.3,1050) rotate(-90)" class="yt">Friction Coefficient</text>
<line x1="1595.5" y1="122.9" x2="1691.5" y2="122.9" stroke="#DE9A0A" stroke-width="7.5" stroke-linecap="round"/>
<text transform="translate(1701.5,136.9) scale(1.03,1)" class="lg">Substrate</text>
<line x1="1595.5" y1="173.9" x2="1691.5" y2="173.9" stroke="#00C2C4" stroke-width="7.5" stroke-linecap="round"/>
<text transform="translate(1701.5,187.9) scale(1.03,1)" class="lg">C276-0%SiC</text>
<line x1="1595.5" y1="224.8" x2="1691.5" y2="224.8" stroke="#000000" stroke-width="7.5" stroke-linecap="round"/>
<text transform="translate(1701.5,238.8) scale(1.03,1)" class="lg">C276-3%SiC</text>
<line x1="1595.5" y1="275.8" x2="1691.5" y2="275.8" stroke="#FF0000" stroke-width="7.5" stroke-linecap="round"/>
<text transform="translate(1701.5,289.8) scale(1.03,1)" class="lg">C276-5%SiC</text>
<line x1="1595.5" y1="326.8" x2="1691.5" y2="326.8" stroke="#0063B8" stroke-width="7.5" stroke-linecap="round"/>
<text transform="translate(1701.5,340.8) scale(1.03,1)" class="lg">C276-7%SiC</text>
<line x1="1595.5" y1="377.8" x2="1691.5" y2="377.8" stroke="#16A30E" stroke-width="7.5" stroke-linecap="round"/>
<text transform="translate(1701.5,391.8) scale(1.03,1)" class="lg">C276-9%SiC</text>
<line x1="1595.5" y1="428.7" x2="1691.5" y2="428.7" stroke="#9B00FF" stroke-width="7.5" stroke-linecap="round"/>
<text transform="translate(1701.5,442.7) scale(1.03,1)" class="lg">C276-11%SiC</text>
<rect x="1957.5" y="229" width="3" height="4" fill="#F6DDB0"/>
</svg>
</body></html>
